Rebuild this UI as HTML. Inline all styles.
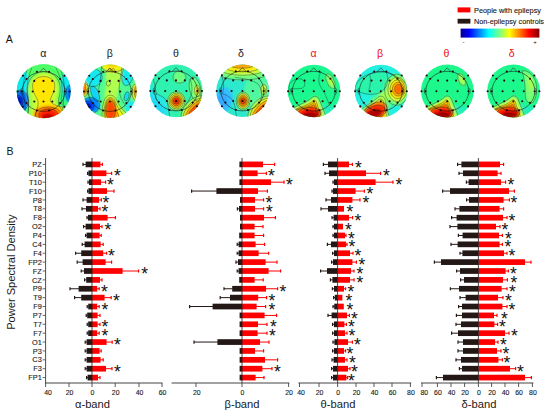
<!DOCTYPE html>
<html><head><meta charset="utf-8"><title>Figure</title>
<style>
html,body{margin:0;padding:0;background:#fff;}
body{width:550px;height:415px;overflow:hidden;font-family:"Liberation Sans",sans-serif;}
svg{display:block;font-family:"Liberation Sans",sans-serif;}
</style></head><body>
<svg width="550" height="415" viewBox="0 0 550 415">
<rect width="550" height="415" fill="#fff"/>
<line x1="83.0" y1="164.40" x2="86.1" y2="164.40" stroke="#231815" stroke-width="1"/>
<line x1="83.0" y1="162.80" x2="83.0" y2="166.00" stroke="#231815" stroke-width="1.2"/>
<line x1="99.9" y1="164.40" x2="102.4" y2="164.40" stroke="#fe0000" stroke-width="1"/>
<line x1="102.4" y1="162.80" x2="102.4" y2="166.00" stroke="#fe0000" stroke-width="1.2"/>
<rect x="85.6" y="161.55" width="6.4" height="5.7" fill="#231815"/>
<rect x="92.0" y="161.55" width="8.4" height="5.7" fill="#fe0000"/>
<line x1="87.6" y1="173.28" x2="88.9" y2="173.28" stroke="#231815" stroke-width="1"/>
<line x1="87.6" y1="171.68" x2="87.6" y2="174.88" stroke="#231815" stroke-width="1.2"/>
<line x1="105.9" y1="173.28" x2="111.6" y2="173.28" stroke="#fe0000" stroke-width="1"/>
<line x1="111.6" y1="171.68" x2="111.6" y2="174.88" stroke="#fe0000" stroke-width="1.2"/>
<rect x="88.4" y="170.43" width="3.6" height="5.7" fill="#231815"/>
<rect x="92.0" y="170.43" width="14.4" height="5.7" fill="#fe0000"/>
<text x="117.4" y="182.38" font-size="17.5" text-anchor="middle" fill="#111">*</text>
<line x1="88.0" y1="182.17" x2="89.5" y2="182.17" stroke="#231815" stroke-width="1"/>
<line x1="88.0" y1="180.57" x2="88.0" y2="183.77" stroke="#231815" stroke-width="1.2"/>
<line x1="100.5" y1="182.17" x2="105.6" y2="182.17" stroke="#fe0000" stroke-width="1"/>
<line x1="105.6" y1="180.57" x2="105.6" y2="183.77" stroke="#fe0000" stroke-width="1.2"/>
<rect x="89.0" y="179.32" width="3.0" height="5.7" fill="#231815"/>
<rect x="92.0" y="179.32" width="9.0" height="5.7" fill="#fe0000"/>
<text x="110.4" y="191.27" font-size="17.5" text-anchor="middle" fill="#111">*</text>
<line x1="87.6" y1="191.05" x2="88.9" y2="191.05" stroke="#231815" stroke-width="1"/>
<line x1="87.6" y1="189.45" x2="87.6" y2="192.65" stroke="#231815" stroke-width="1.2"/>
<line x1="106.5" y1="191.05" x2="114.0" y2="191.05" stroke="#fe0000" stroke-width="1"/>
<line x1="114.0" y1="189.45" x2="114.0" y2="192.65" stroke="#fe0000" stroke-width="1.2"/>
<rect x="88.4" y="188.20" width="3.6" height="5.7" fill="#231815"/>
<rect x="92.0" y="188.20" width="15.0" height="5.7" fill="#fe0000"/>
<line x1="83.0" y1="199.93" x2="87.1" y2="199.93" stroke="#231815" stroke-width="1"/>
<line x1="83.0" y1="198.33" x2="83.0" y2="201.53" stroke="#231815" stroke-width="1.2"/>
<line x1="98.5" y1="199.93" x2="101.4" y2="199.93" stroke="#fe0000" stroke-width="1"/>
<line x1="101.4" y1="198.33" x2="101.4" y2="201.53" stroke="#fe0000" stroke-width="1.2"/>
<rect x="86.6" y="197.08" width="5.4" height="5.7" fill="#231815"/>
<rect x="92.0" y="197.08" width="7.0" height="5.7" fill="#fe0000"/>
<text x="106.0" y="209.03" font-size="17.5" text-anchor="middle" fill="#111">*</text>
<line x1="82.0" y1="208.81" x2="86.5" y2="208.81" stroke="#231815" stroke-width="1"/>
<line x1="82.0" y1="207.22" x2="82.0" y2="210.41" stroke="#231815" stroke-width="1.2"/>
<line x1="97.5" y1="208.81" x2="100.0" y2="208.81" stroke="#fe0000" stroke-width="1"/>
<line x1="100.0" y1="207.22" x2="100.0" y2="210.41" stroke="#fe0000" stroke-width="1.2"/>
<rect x="86.0" y="205.97" width="6.0" height="5.7" fill="#231815"/>
<rect x="92.0" y="205.97" width="6.0" height="5.7" fill="#fe0000"/>
<text x="104.8" y="217.91" font-size="17.5" text-anchor="middle" fill="#111">*</text>
<line x1="87.0" y1="217.70" x2="88.5" y2="217.70" stroke="#231815" stroke-width="1"/>
<line x1="87.0" y1="216.10" x2="87.0" y2="219.30" stroke="#231815" stroke-width="1.2"/>
<line x1="107.1" y1="217.70" x2="115.4" y2="217.70" stroke="#fe0000" stroke-width="1"/>
<line x1="115.4" y1="216.10" x2="115.4" y2="219.30" stroke="#fe0000" stroke-width="1.2"/>
<rect x="88.0" y="214.85" width="4.0" height="5.7" fill="#231815"/>
<rect x="92.0" y="214.85" width="15.6" height="5.7" fill="#fe0000"/>
<line x1="83.6" y1="226.58" x2="86.1" y2="226.58" stroke="#231815" stroke-width="1"/>
<line x1="83.6" y1="224.98" x2="83.6" y2="228.18" stroke="#231815" stroke-width="1.2"/>
<line x1="99.5" y1="226.58" x2="102.0" y2="226.58" stroke="#fe0000" stroke-width="1"/>
<line x1="102.0" y1="224.98" x2="102.0" y2="228.18" stroke="#fe0000" stroke-width="1.2"/>
<rect x="85.6" y="223.73" width="6.4" height="5.7" fill="#231815"/>
<rect x="92.0" y="223.73" width="8.0" height="5.7" fill="#fe0000"/>
<text x="108.0" y="235.68" font-size="17.5" text-anchor="middle" fill="#111">*</text>
<line x1="85.6" y1="235.46" x2="87.1" y2="235.46" stroke="#231815" stroke-width="1"/>
<line x1="85.6" y1="233.86" x2="85.6" y2="237.06" stroke="#231815" stroke-width="1.2"/>
<line x1="99.1" y1="235.46" x2="101.2" y2="235.46" stroke="#fe0000" stroke-width="1"/>
<line x1="101.2" y1="233.86" x2="101.2" y2="237.06" stroke="#fe0000" stroke-width="1.2"/>
<rect x="86.6" y="232.61" width="5.4" height="5.7" fill="#231815"/>
<rect x="92.0" y="232.61" width="7.6" height="5.7" fill="#fe0000"/>
<line x1="82.2" y1="244.35" x2="85.1" y2="244.35" stroke="#231815" stroke-width="1"/>
<line x1="82.2" y1="242.75" x2="82.2" y2="245.95" stroke="#231815" stroke-width="1.2"/>
<line x1="100.1" y1="244.35" x2="103.2" y2="244.35" stroke="#fe0000" stroke-width="1"/>
<line x1="103.2" y1="242.75" x2="103.2" y2="245.95" stroke="#fe0000" stroke-width="1.2"/>
<rect x="84.6" y="241.50" width="7.4" height="5.7" fill="#231815"/>
<rect x="92.0" y="241.50" width="8.6" height="5.7" fill="#fe0000"/>
<line x1="75.6" y1="253.23" x2="81.7" y2="253.23" stroke="#231815" stroke-width="1"/>
<line x1="75.6" y1="251.63" x2="75.6" y2="254.83" stroke="#231815" stroke-width="1.2"/>
<line x1="102.7" y1="253.23" x2="106.6" y2="253.23" stroke="#fe0000" stroke-width="1"/>
<line x1="106.6" y1="251.63" x2="106.6" y2="254.83" stroke="#fe0000" stroke-width="1.2"/>
<rect x="81.2" y="250.38" width="10.8" height="5.7" fill="#231815"/>
<rect x="92.0" y="250.38" width="11.2" height="5.7" fill="#fe0000"/>
<text x="111.4" y="262.33" font-size="17.5" text-anchor="middle" fill="#111">*</text>
<line x1="77.2" y1="262.11" x2="83.1" y2="262.11" stroke="#231815" stroke-width="1"/>
<line x1="77.2" y1="260.51" x2="77.2" y2="263.71" stroke="#231815" stroke-width="1.2"/>
<line x1="105.1" y1="262.11" x2="111.6" y2="262.11" stroke="#fe0000" stroke-width="1"/>
<line x1="111.6" y1="260.51" x2="111.6" y2="263.71" stroke="#fe0000" stroke-width="1.2"/>
<rect x="82.6" y="259.26" width="9.4" height="5.7" fill="#231815"/>
<rect x="92.0" y="259.26" width="13.6" height="5.7" fill="#fe0000"/>
<line x1="81.2" y1="271.00" x2="84.5" y2="271.00" stroke="#231815" stroke-width="1"/>
<line x1="81.2" y1="269.40" x2="81.2" y2="272.60" stroke="#231815" stroke-width="1.2"/>
<line x1="122.1" y1="271.00" x2="138.6" y2="271.00" stroke="#fe0000" stroke-width="1"/>
<line x1="138.6" y1="269.40" x2="138.6" y2="272.60" stroke="#fe0000" stroke-width="1.2"/>
<rect x="84.0" y="268.15" width="8.0" height="5.7" fill="#231815"/>
<rect x="92.0" y="268.15" width="30.6" height="5.7" fill="#fe0000"/>
<text x="144.6" y="280.10" font-size="17.5" text-anchor="middle" fill="#111">*</text>
<line x1="84.6" y1="279.88" x2="86.7" y2="279.88" stroke="#231815" stroke-width="1"/>
<line x1="84.6" y1="278.28" x2="84.6" y2="281.48" stroke="#231815" stroke-width="1.2"/>
<line x1="99.5" y1="279.88" x2="102.0" y2="279.88" stroke="#fe0000" stroke-width="1"/>
<line x1="102.0" y1="278.28" x2="102.0" y2="281.48" stroke="#fe0000" stroke-width="1.2"/>
<rect x="86.2" y="277.03" width="5.8" height="5.7" fill="#231815"/>
<rect x="92.0" y="277.03" width="8.0" height="5.7" fill="#fe0000"/>
<line x1="70.0" y1="288.76" x2="79.1" y2="288.76" stroke="#231815" stroke-width="1"/>
<line x1="70.0" y1="287.16" x2="70.0" y2="290.36" stroke="#231815" stroke-width="1.2"/>
<line x1="96.7" y1="288.76" x2="99.2" y2="288.76" stroke="#fe0000" stroke-width="1"/>
<line x1="99.2" y1="287.16" x2="99.2" y2="290.36" stroke="#fe0000" stroke-width="1.2"/>
<rect x="78.6" y="285.91" width="13.4" height="5.7" fill="#231815"/>
<rect x="92.0" y="285.91" width="5.2" height="5.7" fill="#fe0000"/>
<text x="104.4" y="297.86" font-size="17.5" text-anchor="middle" fill="#111">*</text>
<line x1="74.6" y1="297.64" x2="81.7" y2="297.64" stroke="#231815" stroke-width="1"/>
<line x1="74.6" y1="296.04" x2="74.6" y2="299.25" stroke="#231815" stroke-width="1.2"/>
<line x1="104.1" y1="297.64" x2="111.2" y2="297.64" stroke="#fe0000" stroke-width="1"/>
<line x1="111.2" y1="296.04" x2="111.2" y2="299.25" stroke="#fe0000" stroke-width="1.2"/>
<rect x="81.2" y="294.79" width="10.8" height="5.7" fill="#231815"/>
<rect x="92.0" y="294.79" width="12.6" height="5.7" fill="#fe0000"/>
<text x="116.4" y="306.75" font-size="17.5" text-anchor="middle" fill="#111">*</text>
<line x1="87.2" y1="306.53" x2="88.7" y2="306.53" stroke="#231815" stroke-width="1"/>
<line x1="87.2" y1="304.93" x2="87.2" y2="308.13" stroke="#231815" stroke-width="1.2"/>
<line x1="96.7" y1="306.53" x2="99.2" y2="306.53" stroke="#fe0000" stroke-width="1"/>
<line x1="99.2" y1="304.93" x2="99.2" y2="308.13" stroke="#fe0000" stroke-width="1.2"/>
<rect x="88.2" y="303.68" width="3.8" height="5.7" fill="#231815"/>
<rect x="92.0" y="303.68" width="5.2" height="5.7" fill="#fe0000"/>
<text x="104.8" y="315.63" font-size="17.5" text-anchor="middle" fill="#111">*</text>
<line x1="86.2" y1="315.41" x2="87.7" y2="315.41" stroke="#231815" stroke-width="1"/>
<line x1="86.2" y1="313.81" x2="86.2" y2="317.01" stroke="#231815" stroke-width="1.2"/>
<line x1="97.1" y1="315.41" x2="100.0" y2="315.41" stroke="#fe0000" stroke-width="1"/>
<line x1="100.0" y1="313.81" x2="100.0" y2="317.01" stroke="#fe0000" stroke-width="1.2"/>
<rect x="87.2" y="312.56" width="4.8" height="5.7" fill="#231815"/>
<rect x="92.0" y="312.56" width="5.6" height="5.7" fill="#fe0000"/>
<line x1="87.2" y1="324.29" x2="88.7" y2="324.29" stroke="#231815" stroke-width="1"/>
<line x1="87.2" y1="322.69" x2="87.2" y2="325.89" stroke="#231815" stroke-width="1.2"/>
<line x1="97.1" y1="324.29" x2="100.0" y2="324.29" stroke="#fe0000" stroke-width="1"/>
<line x1="100.0" y1="322.69" x2="100.0" y2="325.89" stroke="#fe0000" stroke-width="1.2"/>
<rect x="88.2" y="321.44" width="3.8" height="5.7" fill="#231815"/>
<rect x="92.0" y="321.44" width="5.6" height="5.7" fill="#fe0000"/>
<text x="105.0" y="333.39" font-size="17.5" text-anchor="middle" fill="#111">*</text>
<line x1="87.2" y1="333.18" x2="88.7" y2="333.18" stroke="#231815" stroke-width="1"/>
<line x1="87.2" y1="331.58" x2="87.2" y2="334.78" stroke="#231815" stroke-width="1.2"/>
<line x1="96.7" y1="333.18" x2="99.2" y2="333.18" stroke="#fe0000" stroke-width="1"/>
<line x1="99.2" y1="331.58" x2="99.2" y2="334.78" stroke="#fe0000" stroke-width="1.2"/>
<rect x="88.2" y="330.33" width="3.8" height="5.7" fill="#231815"/>
<rect x="92.0" y="330.33" width="5.2" height="5.7" fill="#fe0000"/>
<text x="104.8" y="342.28" font-size="17.5" text-anchor="middle" fill="#111">*</text>
<line x1="85.2" y1="342.06" x2="87.1" y2="342.06" stroke="#231815" stroke-width="1"/>
<line x1="85.2" y1="340.46" x2="85.2" y2="343.66" stroke="#231815" stroke-width="1.2"/>
<line x1="106.1" y1="342.06" x2="112.2" y2="342.06" stroke="#fe0000" stroke-width="1"/>
<line x1="112.2" y1="340.46" x2="112.2" y2="343.66" stroke="#fe0000" stroke-width="1.2"/>
<rect x="86.6" y="339.21" width="5.4" height="5.7" fill="#231815"/>
<rect x="92.0" y="339.21" width="14.6" height="5.7" fill="#fe0000"/>
<text x="117.4" y="351.16" font-size="17.5" text-anchor="middle" fill="#111">*</text>
<line x1="85.2" y1="350.94" x2="87.1" y2="350.94" stroke="#231815" stroke-width="1"/>
<line x1="85.2" y1="349.34" x2="85.2" y2="352.54" stroke="#231815" stroke-width="1.2"/>
<line x1="99.1" y1="350.94" x2="101.2" y2="350.94" stroke="#fe0000" stroke-width="1"/>
<line x1="101.2" y1="349.34" x2="101.2" y2="352.54" stroke="#fe0000" stroke-width="1.2"/>
<rect x="86.6" y="348.09" width="5.4" height="5.7" fill="#231815"/>
<rect x="92.0" y="348.09" width="7.6" height="5.7" fill="#fe0000"/>
<line x1="85.2" y1="359.83" x2="87.1" y2="359.83" stroke="#231815" stroke-width="1"/>
<line x1="85.2" y1="358.23" x2="85.2" y2="361.43" stroke="#231815" stroke-width="1.2"/>
<line x1="100.1" y1="359.83" x2="103.2" y2="359.83" stroke="#fe0000" stroke-width="1"/>
<line x1="103.2" y1="358.23" x2="103.2" y2="361.43" stroke="#fe0000" stroke-width="1.2"/>
<rect x="86.6" y="356.98" width="5.4" height="5.7" fill="#231815"/>
<rect x="92.0" y="356.98" width="8.6" height="5.7" fill="#fe0000"/>
<line x1="85.2" y1="368.71" x2="87.1" y2="368.71" stroke="#231815" stroke-width="1"/>
<line x1="85.2" y1="367.11" x2="85.2" y2="370.31" stroke="#231815" stroke-width="1.2"/>
<line x1="105.5" y1="368.71" x2="112.0" y2="368.71" stroke="#fe0000" stroke-width="1"/>
<line x1="112.0" y1="367.11" x2="112.0" y2="370.31" stroke="#fe0000" stroke-width="1.2"/>
<rect x="86.6" y="365.86" width="5.4" height="5.7" fill="#231815"/>
<rect x="92.0" y="365.86" width="14.0" height="5.7" fill="#fe0000"/>
<text x="117.4" y="377.81" font-size="17.5" text-anchor="middle" fill="#111">*</text>
<line x1="86.6" y1="377.59" x2="88.1" y2="377.59" stroke="#231815" stroke-width="1"/>
<line x1="86.6" y1="375.99" x2="86.6" y2="379.19" stroke="#231815" stroke-width="1.2"/>
<line x1="97.5" y1="377.59" x2="100.0" y2="377.59" stroke="#fe0000" stroke-width="1"/>
<line x1="100.0" y1="375.99" x2="100.0" y2="379.19" stroke="#fe0000" stroke-width="1.2"/>
<rect x="87.6" y="374.74" width="4.4" height="5.7" fill="#231815"/>
<rect x="92.0" y="374.74" width="6.0" height="5.7" fill="#fe0000"/>
<line x1="92.0" y1="158" x2="92.0" y2="383.0" stroke="#1a1a1a" stroke-width="0.8"/>
<line x1="262.5" y1="164.40" x2="274.6" y2="164.40" stroke="#fe0000" stroke-width="1"/>
<line x1="274.6" y1="162.80" x2="274.6" y2="166.00" stroke="#fe0000" stroke-width="1.2"/>
<rect x="239.4" y="161.55" width="2.6" height="5.7" fill="#231815"/>
<rect x="242.0" y="161.55" width="21.0" height="5.7" fill="#fe0000"/>
<line x1="257.1" y1="173.28" x2="266.4" y2="173.28" stroke="#fe0000" stroke-width="1"/>
<line x1="266.4" y1="171.68" x2="266.4" y2="174.88" stroke="#fe0000" stroke-width="1.2"/>
<rect x="239.4" y="170.43" width="2.6" height="5.7" fill="#231815"/>
<rect x="242.0" y="170.43" width="15.6" height="5.7" fill="#fe0000"/>
<text x="271.4" y="182.38" font-size="17.5" text-anchor="middle" fill="#111">*</text>
<line x1="270.5" y1="182.17" x2="284.0" y2="182.17" stroke="#fe0000" stroke-width="1"/>
<line x1="284.0" y1="180.57" x2="284.0" y2="183.77" stroke="#fe0000" stroke-width="1.2"/>
<rect x="239.4" y="179.32" width="2.6" height="5.7" fill="#231815"/>
<rect x="242.0" y="179.32" width="29.0" height="5.7" fill="#fe0000"/>
<text x="289.4" y="191.27" font-size="17.5" text-anchor="middle" fill="#111">*</text>
<line x1="191.6" y1="191.05" x2="216.9" y2="191.05" stroke="#231815" stroke-width="1"/>
<line x1="191.6" y1="189.45" x2="191.6" y2="192.65" stroke="#231815" stroke-width="1.2"/>
<line x1="257.5" y1="191.05" x2="267.4" y2="191.05" stroke="#fe0000" stroke-width="1"/>
<line x1="267.4" y1="189.45" x2="267.4" y2="192.65" stroke="#fe0000" stroke-width="1.2"/>
<rect x="216.4" y="188.20" width="25.6" height="5.7" fill="#231815"/>
<rect x="242.0" y="188.20" width="16.0" height="5.7" fill="#fe0000"/>
<line x1="254.5" y1="199.93" x2="263.6" y2="199.93" stroke="#fe0000" stroke-width="1"/>
<line x1="263.6" y1="198.33" x2="263.6" y2="201.53" stroke="#fe0000" stroke-width="1.2"/>
<rect x="240.0" y="197.08" width="2.0" height="5.7" fill="#231815"/>
<rect x="242.0" y="197.08" width="13.0" height="5.7" fill="#fe0000"/>
<text x="268.8" y="209.03" font-size="17.5" text-anchor="middle" fill="#111">*</text>
<line x1="237.4" y1="208.81" x2="239.5" y2="208.81" stroke="#231815" stroke-width="1"/>
<line x1="237.4" y1="207.22" x2="237.4" y2="210.41" stroke="#231815" stroke-width="1.2"/>
<line x1="254.5" y1="208.81" x2="263.6" y2="208.81" stroke="#fe0000" stroke-width="1"/>
<line x1="263.6" y1="207.22" x2="263.6" y2="210.41" stroke="#fe0000" stroke-width="1.2"/>
<rect x="239.0" y="205.97" width="3.0" height="5.7" fill="#231815"/>
<rect x="242.0" y="205.97" width="13.0" height="5.7" fill="#fe0000"/>
<text x="269.4" y="217.91" font-size="17.5" text-anchor="middle" fill="#111">*</text>
<line x1="263.5" y1="217.70" x2="275.4" y2="217.70" stroke="#fe0000" stroke-width="1"/>
<line x1="275.4" y1="216.10" x2="275.4" y2="219.30" stroke="#fe0000" stroke-width="1.2"/>
<rect x="240.0" y="214.85" width="2.0" height="5.7" fill="#231815"/>
<rect x="242.0" y="214.85" width="22.0" height="5.7" fill="#fe0000"/>
<line x1="254.1" y1="226.58" x2="263.0" y2="226.58" stroke="#fe0000" stroke-width="1"/>
<line x1="263.0" y1="224.98" x2="263.0" y2="228.18" stroke="#fe0000" stroke-width="1.2"/>
<rect x="240.0" y="223.73" width="2.0" height="5.7" fill="#231815"/>
<rect x="242.0" y="223.73" width="12.6" height="5.7" fill="#fe0000"/>
<line x1="254.1" y1="235.46" x2="263.6" y2="235.46" stroke="#fe0000" stroke-width="1"/>
<line x1="263.6" y1="233.86" x2="263.6" y2="237.06" stroke="#fe0000" stroke-width="1.2"/>
<rect x="239.2" y="232.61" width="2.8" height="5.7" fill="#231815"/>
<rect x="242.0" y="232.61" width="12.6" height="5.7" fill="#fe0000"/>
<line x1="237.2" y1="244.35" x2="239.1" y2="244.35" stroke="#231815" stroke-width="1"/>
<line x1="237.2" y1="242.75" x2="237.2" y2="245.95" stroke="#231815" stroke-width="1.2"/>
<line x1="255.1" y1="244.35" x2="264.6" y2="244.35" stroke="#fe0000" stroke-width="1"/>
<line x1="264.6" y1="242.75" x2="264.6" y2="245.95" stroke="#fe0000" stroke-width="1.2"/>
<rect x="238.6" y="241.50" width="3.4" height="5.7" fill="#231815"/>
<rect x="242.0" y="241.50" width="13.6" height="5.7" fill="#fe0000"/>
<line x1="237.2" y1="253.23" x2="239.1" y2="253.23" stroke="#231815" stroke-width="1"/>
<line x1="237.2" y1="251.63" x2="237.2" y2="254.83" stroke="#231815" stroke-width="1.2"/>
<line x1="258.1" y1="253.23" x2="268.6" y2="253.23" stroke="#fe0000" stroke-width="1"/>
<line x1="268.6" y1="251.63" x2="268.6" y2="254.83" stroke="#fe0000" stroke-width="1.2"/>
<rect x="238.6" y="250.38" width="3.4" height="5.7" fill="#231815"/>
<rect x="242.0" y="250.38" width="16.6" height="5.7" fill="#fe0000"/>
<line x1="236.0" y1="262.11" x2="238.5" y2="262.11" stroke="#231815" stroke-width="1"/>
<line x1="236.0" y1="260.51" x2="236.0" y2="263.71" stroke="#231815" stroke-width="1.2"/>
<line x1="265.1" y1="262.11" x2="277.0" y2="262.11" stroke="#fe0000" stroke-width="1"/>
<line x1="277.0" y1="260.51" x2="277.0" y2="263.71" stroke="#fe0000" stroke-width="1.2"/>
<rect x="238.0" y="259.26" width="4.0" height="5.7" fill="#231815"/>
<rect x="242.0" y="259.26" width="23.6" height="5.7" fill="#fe0000"/>
<line x1="237.2" y1="271.00" x2="239.1" y2="271.00" stroke="#231815" stroke-width="1"/>
<line x1="237.2" y1="269.40" x2="237.2" y2="272.60" stroke="#231815" stroke-width="1.2"/>
<line x1="268.1" y1="271.00" x2="280.6" y2="271.00" stroke="#fe0000" stroke-width="1"/>
<line x1="280.6" y1="269.40" x2="280.6" y2="272.60" stroke="#fe0000" stroke-width="1.2"/>
<rect x="238.6" y="268.15" width="3.4" height="5.7" fill="#231815"/>
<rect x="242.0" y="268.15" width="26.6" height="5.7" fill="#fe0000"/>
<line x1="254.1" y1="279.88" x2="263.2" y2="279.88" stroke="#fe0000" stroke-width="1"/>
<line x1="263.2" y1="278.28" x2="263.2" y2="281.48" stroke="#fe0000" stroke-width="1.2"/>
<rect x="239.2" y="277.03" width="2.8" height="5.7" fill="#231815"/>
<rect x="242.0" y="277.03" width="12.6" height="5.7" fill="#fe0000"/>
<line x1="224.0" y1="288.76" x2="232.7" y2="288.76" stroke="#231815" stroke-width="1"/>
<line x1="224.0" y1="287.16" x2="224.0" y2="290.36" stroke="#231815" stroke-width="1.2"/>
<line x1="265.5" y1="288.76" x2="277.6" y2="288.76" stroke="#fe0000" stroke-width="1"/>
<line x1="277.6" y1="287.16" x2="277.6" y2="290.36" stroke="#fe0000" stroke-width="1.2"/>
<rect x="232.2" y="285.91" width="9.8" height="5.7" fill="#231815"/>
<rect x="242.0" y="285.91" width="24.0" height="5.7" fill="#fe0000"/>
<text x="283.0" y="297.86" font-size="17.5" text-anchor="middle" fill="#111">*</text>
<line x1="220.2" y1="297.64" x2="230.5" y2="297.64" stroke="#231815" stroke-width="1"/>
<line x1="220.2" y1="296.04" x2="220.2" y2="299.25" stroke="#231815" stroke-width="1.2"/>
<line x1="257.7" y1="297.64" x2="266.6" y2="297.64" stroke="#fe0000" stroke-width="1"/>
<line x1="266.6" y1="296.04" x2="266.6" y2="299.25" stroke="#fe0000" stroke-width="1.2"/>
<rect x="230.0" y="294.79" width="12.0" height="5.7" fill="#231815"/>
<rect x="242.0" y="294.79" width="16.2" height="5.7" fill="#fe0000"/>
<text x="272.0" y="306.75" font-size="17.5" text-anchor="middle" fill="#111">*</text>
<line x1="189.6" y1="306.53" x2="213.1" y2="306.53" stroke="#231815" stroke-width="1"/>
<line x1="189.6" y1="304.93" x2="189.6" y2="308.13" stroke="#231815" stroke-width="1.2"/>
<line x1="256.1" y1="306.53" x2="265.6" y2="306.53" stroke="#fe0000" stroke-width="1"/>
<line x1="265.6" y1="304.93" x2="265.6" y2="308.13" stroke="#fe0000" stroke-width="1.2"/>
<rect x="212.6" y="303.68" width="29.4" height="5.7" fill="#231815"/>
<rect x="242.0" y="303.68" width="14.6" height="5.7" fill="#fe0000"/>
<text x="272.0" y="315.63" font-size="17.5" text-anchor="middle" fill="#111">*</text>
<line x1="264.1" y1="315.41" x2="276.6" y2="315.41" stroke="#fe0000" stroke-width="1"/>
<line x1="276.6" y1="313.81" x2="276.6" y2="317.01" stroke="#fe0000" stroke-width="1.2"/>
<rect x="239.6" y="312.56" width="2.4" height="5.7" fill="#231815"/>
<rect x="242.0" y="312.56" width="22.6" height="5.7" fill="#fe0000"/>
<line x1="257.5" y1="324.29" x2="267.0" y2="324.29" stroke="#fe0000" stroke-width="1"/>
<line x1="267.0" y1="322.69" x2="267.0" y2="325.89" stroke="#fe0000" stroke-width="1.2"/>
<rect x="239.6" y="321.44" width="2.4" height="5.7" fill="#231815"/>
<rect x="242.0" y="321.44" width="16.0" height="5.7" fill="#fe0000"/>
<text x="273.4" y="333.39" font-size="17.5" text-anchor="middle" fill="#111">*</text>
<line x1="257.1" y1="333.18" x2="267.0" y2="333.18" stroke="#fe0000" stroke-width="1"/>
<line x1="267.0" y1="331.58" x2="267.0" y2="334.78" stroke="#fe0000" stroke-width="1.2"/>
<rect x="239.6" y="330.33" width="2.4" height="5.7" fill="#231815"/>
<rect x="242.0" y="330.33" width="15.6" height="5.7" fill="#fe0000"/>
<text x="272.4" y="342.28" font-size="17.5" text-anchor="middle" fill="#111">*</text>
<line x1="194.0" y1="342.06" x2="217.9" y2="342.06" stroke="#231815" stroke-width="1"/>
<line x1="194.0" y1="340.46" x2="194.0" y2="343.66" stroke="#231815" stroke-width="1.2"/>
<line x1="259.5" y1="342.06" x2="269.0" y2="342.06" stroke="#fe0000" stroke-width="1"/>
<line x1="269.0" y1="340.46" x2="269.0" y2="343.66" stroke="#fe0000" stroke-width="1.2"/>
<rect x="217.4" y="339.21" width="24.6" height="5.7" fill="#231815"/>
<rect x="242.0" y="339.21" width="18.0" height="5.7" fill="#fe0000"/>
<line x1="254.5" y1="350.94" x2="263.6" y2="350.94" stroke="#fe0000" stroke-width="1"/>
<line x1="263.6" y1="349.34" x2="263.6" y2="352.54" stroke="#fe0000" stroke-width="1.2"/>
<rect x="239.6" y="348.09" width="2.4" height="5.7" fill="#231815"/>
<rect x="242.0" y="348.09" width="13.0" height="5.7" fill="#fe0000"/>
<line x1="264.5" y1="359.83" x2="277.6" y2="359.83" stroke="#fe0000" stroke-width="1"/>
<line x1="277.6" y1="358.23" x2="277.6" y2="361.43" stroke="#fe0000" stroke-width="1.2"/>
<rect x="239.6" y="356.98" width="2.4" height="5.7" fill="#231815"/>
<rect x="242.0" y="356.98" width="23.0" height="5.7" fill="#fe0000"/>
<line x1="261.9" y1="368.71" x2="272.0" y2="368.71" stroke="#fe0000" stroke-width="1"/>
<line x1="272.0" y1="367.11" x2="272.0" y2="370.31" stroke="#fe0000" stroke-width="1.2"/>
<rect x="239.6" y="365.86" width="2.4" height="5.7" fill="#231815"/>
<rect x="242.0" y="365.86" width="20.4" height="5.7" fill="#fe0000"/>
<text x="277.4" y="377.81" font-size="17.5" text-anchor="middle" fill="#111">*</text>
<line x1="255.1" y1="377.59" x2="264.0" y2="377.59" stroke="#fe0000" stroke-width="1"/>
<line x1="264.0" y1="375.99" x2="264.0" y2="379.19" stroke="#fe0000" stroke-width="1.2"/>
<rect x="239.6" y="374.74" width="2.4" height="5.7" fill="#231815"/>
<rect x="242.0" y="374.74" width="13.6" height="5.7" fill="#fe0000"/>
<line x1="242.0" y1="158" x2="242.0" y2="383.0" stroke="#1a1a1a" stroke-width="0.8"/>
<line x1="323.4" y1="164.40" x2="328.5" y2="164.40" stroke="#231815" stroke-width="1"/>
<line x1="323.4" y1="162.80" x2="323.4" y2="166.00" stroke="#231815" stroke-width="1.2"/>
<line x1="348.5" y1="164.40" x2="352.4" y2="164.40" stroke="#fe0000" stroke-width="1"/>
<line x1="352.4" y1="162.80" x2="352.4" y2="166.00" stroke="#fe0000" stroke-width="1.2"/>
<rect x="328.0" y="161.55" width="9.6" height="5.7" fill="#231815"/>
<rect x="337.6" y="161.55" width="11.4" height="5.7" fill="#fe0000"/>
<text x="358.4" y="173.50" font-size="17.5" text-anchor="middle" fill="#111">*</text>
<line x1="325.0" y1="173.28" x2="329.5" y2="173.28" stroke="#231815" stroke-width="1"/>
<line x1="325.0" y1="171.68" x2="325.0" y2="174.88" stroke="#231815" stroke-width="1.2"/>
<line x1="365.5" y1="173.28" x2="380.6" y2="173.28" stroke="#fe0000" stroke-width="1"/>
<line x1="380.6" y1="171.68" x2="380.6" y2="174.88" stroke="#fe0000" stroke-width="1.2"/>
<rect x="329.0" y="170.43" width="8.6" height="5.7" fill="#231815"/>
<rect x="337.6" y="170.43" width="28.4" height="5.7" fill="#fe0000"/>
<text x="386.4" y="182.38" font-size="17.5" text-anchor="middle" fill="#111">*</text>
<line x1="333.0" y1="182.17" x2="334.5" y2="182.17" stroke="#231815" stroke-width="1"/>
<line x1="333.0" y1="180.57" x2="333.0" y2="183.77" stroke="#231815" stroke-width="1.2"/>
<line x1="375.1" y1="182.17" x2="393.0" y2="182.17" stroke="#fe0000" stroke-width="1"/>
<line x1="393.0" y1="180.57" x2="393.0" y2="183.77" stroke="#fe0000" stroke-width="1.2"/>
<rect x="334.0" y="179.32" width="3.6" height="5.7" fill="#231815"/>
<rect x="337.6" y="179.32" width="38.0" height="5.7" fill="#fe0000"/>
<text x="398.8" y="191.27" font-size="17.5" text-anchor="middle" fill="#111">*</text>
<line x1="332.0" y1="191.05" x2="333.5" y2="191.05" stroke="#231815" stroke-width="1"/>
<line x1="332.0" y1="189.45" x2="332.0" y2="192.65" stroke="#231815" stroke-width="1.2"/>
<line x1="355.1" y1="191.05" x2="364.4" y2="191.05" stroke="#fe0000" stroke-width="1"/>
<line x1="364.4" y1="189.45" x2="364.4" y2="192.65" stroke="#fe0000" stroke-width="1.2"/>
<rect x="333.0" y="188.20" width="4.6" height="5.7" fill="#231815"/>
<rect x="337.6" y="188.20" width="18.0" height="5.7" fill="#fe0000"/>
<text x="369.8" y="200.15" font-size="17.5" text-anchor="middle" fill="#111">*</text>
<line x1="326.0" y1="199.93" x2="331.5" y2="199.93" stroke="#231815" stroke-width="1"/>
<line x1="326.0" y1="198.33" x2="326.0" y2="201.53" stroke="#231815" stroke-width="1.2"/>
<line x1="351.9" y1="199.93" x2="360.0" y2="199.93" stroke="#fe0000" stroke-width="1"/>
<line x1="360.0" y1="198.33" x2="360.0" y2="201.53" stroke="#fe0000" stroke-width="1.2"/>
<rect x="331.0" y="197.08" width="6.6" height="5.7" fill="#231815"/>
<rect x="337.6" y="197.08" width="14.8" height="5.7" fill="#fe0000"/>
<text x="366.0" y="209.03" font-size="17.5" text-anchor="middle" fill="#111">*</text>
<line x1="321.0" y1="208.81" x2="328.5" y2="208.81" stroke="#231815" stroke-width="1"/>
<line x1="321.0" y1="207.22" x2="321.0" y2="210.41" stroke="#231815" stroke-width="1.2"/>
<rect x="328.0" y="205.97" width="9.6" height="5.7" fill="#231815"/>
<rect x="337.6" y="205.97" width="6.4" height="5.7" fill="#fe0000"/>
<text x="349.8" y="217.91" font-size="17.5" text-anchor="middle" fill="#111">*</text>
<line x1="332.0" y1="217.70" x2="334.1" y2="217.70" stroke="#231815" stroke-width="1"/>
<line x1="332.0" y1="216.10" x2="332.0" y2="219.30" stroke="#231815" stroke-width="1.2"/>
<line x1="348.5" y1="217.70" x2="352.6" y2="217.70" stroke="#fe0000" stroke-width="1"/>
<line x1="352.6" y1="216.10" x2="352.6" y2="219.30" stroke="#fe0000" stroke-width="1.2"/>
<rect x="333.6" y="214.85" width="4.0" height="5.7" fill="#231815"/>
<rect x="337.6" y="214.85" width="11.4" height="5.7" fill="#fe0000"/>
<text x="357.8" y="226.80" font-size="17.5" text-anchor="middle" fill="#111">*</text>
<line x1="333.0" y1="226.58" x2="334.5" y2="226.58" stroke="#231815" stroke-width="1"/>
<line x1="333.0" y1="224.98" x2="333.0" y2="228.18" stroke="#231815" stroke-width="1.2"/>
<rect x="334.0" y="223.73" width="3.6" height="5.7" fill="#231815"/>
<rect x="337.6" y="223.73" width="5.4" height="5.7" fill="#fe0000"/>
<text x="348.4" y="235.68" font-size="17.5" text-anchor="middle" fill="#111">*</text>
<line x1="333.0" y1="235.46" x2="334.5" y2="235.46" stroke="#231815" stroke-width="1"/>
<line x1="333.0" y1="233.86" x2="333.0" y2="237.06" stroke="#231815" stroke-width="1.2"/>
<line x1="344.5" y1="235.46" x2="346.0" y2="235.46" stroke="#fe0000" stroke-width="1"/>
<line x1="346.0" y1="233.86" x2="346.0" y2="237.06" stroke="#fe0000" stroke-width="1.2"/>
<rect x="334.0" y="232.61" width="3.6" height="5.7" fill="#231815"/>
<rect x="337.6" y="232.61" width="7.4" height="5.7" fill="#fe0000"/>
<text x="351.4" y="244.56" font-size="17.5" text-anchor="middle" fill="#111">*</text>
<line x1="327.4" y1="244.35" x2="331.5" y2="244.35" stroke="#231815" stroke-width="1"/>
<line x1="327.4" y1="242.75" x2="327.4" y2="245.95" stroke="#231815" stroke-width="1.2"/>
<line x1="345.5" y1="244.35" x2="347.0" y2="244.35" stroke="#fe0000" stroke-width="1"/>
<line x1="347.0" y1="242.75" x2="347.0" y2="245.95" stroke="#fe0000" stroke-width="1.2"/>
<rect x="331.0" y="241.50" width="6.6" height="5.7" fill="#231815"/>
<rect x="337.6" y="241.50" width="8.4" height="5.7" fill="#fe0000"/>
<text x="352.0" y="253.45" font-size="17.5" text-anchor="middle" fill="#111">*</text>
<line x1="332.6" y1="253.23" x2="334.5" y2="253.23" stroke="#231815" stroke-width="1"/>
<line x1="332.6" y1="251.63" x2="332.6" y2="254.83" stroke="#231815" stroke-width="1.2"/>
<line x1="349.5" y1="253.23" x2="353.0" y2="253.23" stroke="#fe0000" stroke-width="1"/>
<line x1="353.0" y1="251.63" x2="353.0" y2="254.83" stroke="#fe0000" stroke-width="1.2"/>
<rect x="334.0" y="250.38" width="3.6" height="5.7" fill="#231815"/>
<rect x="337.6" y="250.38" width="12.4" height="5.7" fill="#fe0000"/>
<text x="357.8" y="262.33" font-size="17.5" text-anchor="middle" fill="#111">*</text>
<line x1="331.6" y1="262.11" x2="333.5" y2="262.11" stroke="#231815" stroke-width="1"/>
<line x1="331.6" y1="260.51" x2="331.6" y2="263.71" stroke="#231815" stroke-width="1.2"/>
<line x1="351.9" y1="262.11" x2="356.4" y2="262.11" stroke="#fe0000" stroke-width="1"/>
<line x1="356.4" y1="260.51" x2="356.4" y2="263.71" stroke="#fe0000" stroke-width="1.2"/>
<rect x="333.0" y="259.26" width="4.6" height="5.7" fill="#231815"/>
<rect x="337.6" y="259.26" width="14.8" height="5.7" fill="#fe0000"/>
<text x="361.8" y="271.21" font-size="17.5" text-anchor="middle" fill="#111">*</text>
<line x1="320.6" y1="271.00" x2="327.5" y2="271.00" stroke="#231815" stroke-width="1"/>
<line x1="320.6" y1="269.40" x2="320.6" y2="272.60" stroke="#231815" stroke-width="1.2"/>
<line x1="350.5" y1="271.00" x2="354.0" y2="271.00" stroke="#fe0000" stroke-width="1"/>
<line x1="354.0" y1="269.40" x2="354.0" y2="272.60" stroke="#fe0000" stroke-width="1.2"/>
<rect x="327.0" y="268.15" width="10.6" height="5.7" fill="#231815"/>
<rect x="337.6" y="268.15" width="13.4" height="5.7" fill="#fe0000"/>
<text x="359.8" y="280.10" font-size="17.5" text-anchor="middle" fill="#111">*</text>
<line x1="330.4" y1="279.88" x2="332.9" y2="279.88" stroke="#231815" stroke-width="1"/>
<line x1="330.4" y1="278.28" x2="330.4" y2="281.48" stroke="#231815" stroke-width="1.2"/>
<line x1="349.5" y1="279.88" x2="354.0" y2="279.88" stroke="#fe0000" stroke-width="1"/>
<line x1="354.0" y1="278.28" x2="354.0" y2="281.48" stroke="#fe0000" stroke-width="1.2"/>
<rect x="332.4" y="277.03" width="5.2" height="5.7" fill="#231815"/>
<rect x="337.6" y="277.03" width="12.4" height="5.7" fill="#fe0000"/>
<text x="360.0" y="288.98" font-size="17.5" text-anchor="middle" fill="#111">*</text>
<line x1="332.4" y1="288.76" x2="334.5" y2="288.76" stroke="#231815" stroke-width="1"/>
<line x1="332.4" y1="287.16" x2="332.4" y2="290.36" stroke="#231815" stroke-width="1.2"/>
<line x1="343.5" y1="288.76" x2="345.6" y2="288.76" stroke="#fe0000" stroke-width="1"/>
<line x1="345.6" y1="287.16" x2="345.6" y2="290.36" stroke="#fe0000" stroke-width="1.2"/>
<rect x="334.0" y="285.91" width="3.6" height="5.7" fill="#231815"/>
<rect x="337.6" y="285.91" width="6.4" height="5.7" fill="#fe0000"/>
<text x="351.0" y="297.86" font-size="17.5" text-anchor="middle" fill="#111">*</text>
<line x1="333.6" y1="297.64" x2="335.3" y2="297.64" stroke="#231815" stroke-width="1"/>
<line x1="333.6" y1="296.04" x2="333.6" y2="299.25" stroke="#231815" stroke-width="1.2"/>
<rect x="334.8" y="294.79" width="2.8" height="5.7" fill="#231815"/>
<rect x="337.6" y="294.79" width="4.8" height="5.7" fill="#fe0000"/>
<text x="348.8" y="306.75" font-size="17.5" text-anchor="middle" fill="#111">*</text>
<line x1="333.0" y1="306.53" x2="334.7" y2="306.53" stroke="#231815" stroke-width="1"/>
<line x1="333.0" y1="304.93" x2="333.0" y2="308.13" stroke="#231815" stroke-width="1.2"/>
<rect x="334.2" y="303.68" width="3.4" height="5.7" fill="#231815"/>
<rect x="337.6" y="303.68" width="6.2" height="5.7" fill="#fe0000"/>
<text x="350.0" y="315.63" font-size="17.5" text-anchor="middle" fill="#111">*</text>
<line x1="328.0" y1="315.41" x2="332.1" y2="315.41" stroke="#231815" stroke-width="1"/>
<line x1="328.0" y1="313.81" x2="328.0" y2="317.01" stroke="#231815" stroke-width="1.2"/>
<line x1="346.5" y1="315.41" x2="349.4" y2="315.41" stroke="#fe0000" stroke-width="1"/>
<line x1="349.4" y1="313.81" x2="349.4" y2="317.01" stroke="#fe0000" stroke-width="1.2"/>
<rect x="331.6" y="312.56" width="6.0" height="5.7" fill="#231815"/>
<rect x="337.6" y="312.56" width="9.4" height="5.7" fill="#fe0000"/>
<text x="354.4" y="324.51" font-size="17.5" text-anchor="middle" fill="#111">*</text>
<line x1="332.6" y1="324.29" x2="334.5" y2="324.29" stroke="#231815" stroke-width="1"/>
<line x1="332.6" y1="322.69" x2="332.6" y2="325.89" stroke="#231815" stroke-width="1.2"/>
<line x1="343.9" y1="324.29" x2="346.4" y2="324.29" stroke="#fe0000" stroke-width="1"/>
<line x1="346.4" y1="322.69" x2="346.4" y2="325.89" stroke="#fe0000" stroke-width="1.2"/>
<rect x="334.0" y="321.44" width="3.6" height="5.7" fill="#231815"/>
<rect x="337.6" y="321.44" width="6.8" height="5.7" fill="#fe0000"/>
<text x="351.4" y="333.39" font-size="17.5" text-anchor="middle" fill="#111">*</text>
<line x1="332.6" y1="333.18" x2="334.5" y2="333.18" stroke="#231815" stroke-width="1"/>
<line x1="332.6" y1="331.58" x2="332.6" y2="334.78" stroke="#231815" stroke-width="1.2"/>
<line x1="344.5" y1="333.18" x2="347.0" y2="333.18" stroke="#fe0000" stroke-width="1"/>
<line x1="347.0" y1="331.58" x2="347.0" y2="334.78" stroke="#fe0000" stroke-width="1.2"/>
<rect x="334.0" y="330.33" width="3.6" height="5.7" fill="#231815"/>
<rect x="337.6" y="330.33" width="7.4" height="5.7" fill="#fe0000"/>
<text x="351.8" y="342.28" font-size="17.5" text-anchor="middle" fill="#111">*</text>
<line x1="333.0" y1="342.06" x2="334.9" y2="342.06" stroke="#231815" stroke-width="1"/>
<line x1="333.0" y1="340.46" x2="333.0" y2="343.66" stroke="#231815" stroke-width="1.2"/>
<line x1="347.5" y1="342.06" x2="352.4" y2="342.06" stroke="#fe0000" stroke-width="1"/>
<line x1="352.4" y1="340.46" x2="352.4" y2="343.66" stroke="#fe0000" stroke-width="1.2"/>
<rect x="334.4" y="339.21" width="3.2" height="5.7" fill="#231815"/>
<rect x="337.6" y="339.21" width="10.4" height="5.7" fill="#fe0000"/>
<text x="357.4" y="351.16" font-size="17.5" text-anchor="middle" fill="#111">*</text>
<line x1="332.6" y1="350.94" x2="334.5" y2="350.94" stroke="#231815" stroke-width="1"/>
<line x1="332.6" y1="349.34" x2="332.6" y2="352.54" stroke="#231815" stroke-width="1.2"/>
<line x1="343.5" y1="350.94" x2="345.6" y2="350.94" stroke="#fe0000" stroke-width="1"/>
<line x1="345.6" y1="349.34" x2="345.6" y2="352.54" stroke="#fe0000" stroke-width="1.2"/>
<rect x="334.0" y="348.09" width="3.6" height="5.7" fill="#231815"/>
<rect x="337.6" y="348.09" width="6.4" height="5.7" fill="#fe0000"/>
<text x="350.0" y="360.04" font-size="17.5" text-anchor="middle" fill="#111">*</text>
<line x1="332.0" y1="359.83" x2="334.1" y2="359.83" stroke="#231815" stroke-width="1"/>
<line x1="332.0" y1="358.23" x2="332.0" y2="361.43" stroke="#231815" stroke-width="1.2"/>
<line x1="344.5" y1="359.83" x2="347.0" y2="359.83" stroke="#fe0000" stroke-width="1"/>
<line x1="347.0" y1="358.23" x2="347.0" y2="361.43" stroke="#fe0000" stroke-width="1.2"/>
<rect x="333.6" y="356.98" width="4.0" height="5.7" fill="#231815"/>
<rect x="337.6" y="356.98" width="7.4" height="5.7" fill="#fe0000"/>
<text x="352.4" y="368.93" font-size="17.5" text-anchor="middle" fill="#111">*</text>
<line x1="331.6" y1="368.71" x2="333.5" y2="368.71" stroke="#231815" stroke-width="1"/>
<line x1="331.6" y1="367.11" x2="331.6" y2="370.31" stroke="#231815" stroke-width="1.2"/>
<line x1="347.5" y1="368.71" x2="350.0" y2="368.71" stroke="#fe0000" stroke-width="1"/>
<line x1="350.0" y1="367.11" x2="350.0" y2="370.31" stroke="#fe0000" stroke-width="1.2"/>
<rect x="333.0" y="365.86" width="4.6" height="5.7" fill="#231815"/>
<rect x="337.6" y="365.86" width="10.4" height="5.7" fill="#fe0000"/>
<text x="354.4" y="377.81" font-size="17.5" text-anchor="middle" fill="#111">*</text>
<line x1="331.6" y1="377.59" x2="333.5" y2="377.59" stroke="#231815" stroke-width="1"/>
<line x1="331.6" y1="375.99" x2="331.6" y2="379.19" stroke="#231815" stroke-width="1.2"/>
<line x1="345.9" y1="377.59" x2="347.6" y2="377.59" stroke="#fe0000" stroke-width="1"/>
<line x1="347.6" y1="375.99" x2="347.6" y2="379.19" stroke="#fe0000" stroke-width="1.2"/>
<rect x="333.0" y="374.74" width="4.6" height="5.7" fill="#231815"/>
<rect x="337.6" y="374.74" width="8.8" height="5.7" fill="#fe0000"/>
<text x="351.4" y="386.69" font-size="17.5" text-anchor="middle" fill="#111">*</text>
<line x1="337.6" y1="158" x2="337.6" y2="383.0" stroke="#1a1a1a" stroke-width="0.8"/>
<line x1="457.6" y1="164.40" x2="461.9" y2="164.40" stroke="#231815" stroke-width="1"/>
<line x1="457.6" y1="162.80" x2="457.6" y2="166.00" stroke="#231815" stroke-width="1.2"/>
<line x1="499.5" y1="164.40" x2="503.6" y2="164.40" stroke="#fe0000" stroke-width="1"/>
<line x1="503.6" y1="162.80" x2="503.6" y2="166.00" stroke="#fe0000" stroke-width="1.2"/>
<rect x="461.4" y="161.55" width="17.0" height="5.7" fill="#231815"/>
<rect x="478.4" y="161.55" width="21.6" height="5.7" fill="#fe0000"/>
<line x1="459.0" y1="173.28" x2="463.5" y2="173.28" stroke="#231815" stroke-width="1"/>
<line x1="459.0" y1="171.68" x2="459.0" y2="174.88" stroke="#231815" stroke-width="1.2"/>
<line x1="497.1" y1="173.28" x2="501.0" y2="173.28" stroke="#fe0000" stroke-width="1"/>
<line x1="501.0" y1="171.68" x2="501.0" y2="174.88" stroke="#fe0000" stroke-width="1.2"/>
<rect x="463.0" y="170.43" width="15.4" height="5.7" fill="#231815"/>
<rect x="478.4" y="170.43" width="19.2" height="5.7" fill="#fe0000"/>
<line x1="466.4" y1="182.17" x2="469.1" y2="182.17" stroke="#231815" stroke-width="1"/>
<line x1="466.4" y1="180.57" x2="466.4" y2="183.77" stroke="#231815" stroke-width="1.2"/>
<line x1="500.5" y1="182.17" x2="505.6" y2="182.17" stroke="#fe0000" stroke-width="1"/>
<line x1="505.6" y1="180.57" x2="505.6" y2="183.77" stroke="#fe0000" stroke-width="1.2"/>
<rect x="468.6" y="179.32" width="9.8" height="5.7" fill="#231815"/>
<rect x="478.4" y="179.32" width="22.6" height="5.7" fill="#fe0000"/>
<text x="510.8" y="191.27" font-size="17.5" text-anchor="middle" fill="#111">*</text>
<line x1="442.6" y1="191.05" x2="450.5" y2="191.05" stroke="#231815" stroke-width="1"/>
<line x1="442.6" y1="189.45" x2="442.6" y2="192.65" stroke="#231815" stroke-width="1.2"/>
<line x1="508.5" y1="191.05" x2="514.4" y2="191.05" stroke="#fe0000" stroke-width="1"/>
<line x1="514.4" y1="189.45" x2="514.4" y2="192.65" stroke="#fe0000" stroke-width="1.2"/>
<rect x="450.0" y="188.20" width="28.4" height="5.7" fill="#231815"/>
<rect x="478.4" y="188.20" width="30.6" height="5.7" fill="#fe0000"/>
<line x1="466.6" y1="199.93" x2="469.5" y2="199.93" stroke="#231815" stroke-width="1"/>
<line x1="466.6" y1="198.33" x2="466.6" y2="201.53" stroke="#231815" stroke-width="1.2"/>
<line x1="503.1" y1="199.93" x2="509.4" y2="199.93" stroke="#fe0000" stroke-width="1"/>
<line x1="509.4" y1="198.33" x2="509.4" y2="201.53" stroke="#fe0000" stroke-width="1.2"/>
<rect x="469.0" y="197.08" width="9.4" height="5.7" fill="#231815"/>
<rect x="478.4" y="197.08" width="25.2" height="5.7" fill="#fe0000"/>
<text x="514.0" y="209.03" font-size="17.5" text-anchor="middle" fill="#111">*</text>
<line x1="455.0" y1="208.81" x2="459.9" y2="208.81" stroke="#231815" stroke-width="1"/>
<line x1="455.0" y1="207.22" x2="455.0" y2="210.41" stroke="#231815" stroke-width="1.2"/>
<line x1="499.1" y1="208.81" x2="503.6" y2="208.81" stroke="#fe0000" stroke-width="1"/>
<line x1="503.6" y1="207.22" x2="503.6" y2="210.41" stroke="#fe0000" stroke-width="1.2"/>
<rect x="459.4" y="205.97" width="19.0" height="5.7" fill="#231815"/>
<rect x="478.4" y="205.97" width="21.2" height="5.7" fill="#fe0000"/>
<line x1="451.6" y1="217.70" x2="457.1" y2="217.70" stroke="#231815" stroke-width="1"/>
<line x1="451.6" y1="216.10" x2="451.6" y2="219.30" stroke="#231815" stroke-width="1.2"/>
<line x1="502.5" y1="217.70" x2="507.0" y2="217.70" stroke="#fe0000" stroke-width="1"/>
<line x1="507.0" y1="216.10" x2="507.0" y2="219.30" stroke="#fe0000" stroke-width="1.2"/>
<rect x="456.6" y="214.85" width="21.8" height="5.7" fill="#231815"/>
<rect x="478.4" y="214.85" width="24.6" height="5.7" fill="#fe0000"/>
<text x="512.0" y="226.80" font-size="17.5" text-anchor="middle" fill="#111">*</text>
<line x1="450.0" y1="226.58" x2="457.9" y2="226.58" stroke="#231815" stroke-width="1"/>
<line x1="450.0" y1="224.98" x2="450.0" y2="228.18" stroke="#231815" stroke-width="1.2"/>
<line x1="495.5" y1="226.58" x2="500.0" y2="226.58" stroke="#fe0000" stroke-width="1"/>
<line x1="500.0" y1="224.98" x2="500.0" y2="228.18" stroke="#fe0000" stroke-width="1.2"/>
<rect x="457.4" y="223.73" width="21.0" height="5.7" fill="#231815"/>
<rect x="478.4" y="223.73" width="17.6" height="5.7" fill="#fe0000"/>
<text x="504.8" y="235.68" font-size="17.5" text-anchor="middle" fill="#111">*</text>
<line x1="458.4" y1="235.46" x2="463.1" y2="235.46" stroke="#231815" stroke-width="1"/>
<line x1="458.4" y1="233.86" x2="458.4" y2="237.06" stroke="#231815" stroke-width="1.2"/>
<line x1="498.5" y1="235.46" x2="502.4" y2="235.46" stroke="#fe0000" stroke-width="1"/>
<line x1="502.4" y1="233.86" x2="502.4" y2="237.06" stroke="#fe0000" stroke-width="1.2"/>
<rect x="462.6" y="232.61" width="15.8" height="5.7" fill="#231815"/>
<rect x="478.4" y="232.61" width="20.6" height="5.7" fill="#fe0000"/>
<text x="508.4" y="244.56" font-size="17.5" text-anchor="middle" fill="#111">*</text>
<line x1="451.0" y1="244.35" x2="458.1" y2="244.35" stroke="#231815" stroke-width="1"/>
<line x1="451.0" y1="242.75" x2="451.0" y2="245.95" stroke="#231815" stroke-width="1.2"/>
<line x1="499.1" y1="244.35" x2="502.4" y2="244.35" stroke="#fe0000" stroke-width="1"/>
<line x1="502.4" y1="242.75" x2="502.4" y2="245.95" stroke="#fe0000" stroke-width="1.2"/>
<rect x="457.6" y="241.50" width="20.8" height="5.7" fill="#231815"/>
<rect x="478.4" y="241.50" width="21.2" height="5.7" fill="#fe0000"/>
<text x="507.8" y="253.45" font-size="17.5" text-anchor="middle" fill="#111">*</text>
<line x1="460.0" y1="253.23" x2="462.9" y2="253.23" stroke="#231815" stroke-width="1"/>
<line x1="460.0" y1="251.63" x2="460.0" y2="254.83" stroke="#231815" stroke-width="1.2"/>
<line x1="503.5" y1="253.23" x2="507.0" y2="253.23" stroke="#fe0000" stroke-width="1"/>
<line x1="507.0" y1="251.63" x2="507.0" y2="254.83" stroke="#fe0000" stroke-width="1.2"/>
<rect x="462.4" y="250.38" width="16.0" height="5.7" fill="#231815"/>
<rect x="478.4" y="250.38" width="25.6" height="5.7" fill="#fe0000"/>
<text x="512.0" y="262.33" font-size="17.5" text-anchor="middle" fill="#111">*</text>
<line x1="434.4" y1="262.11" x2="441.5" y2="262.11" stroke="#231815" stroke-width="1"/>
<line x1="434.4" y1="260.51" x2="434.4" y2="263.71" stroke="#231815" stroke-width="1.2"/>
<line x1="524.5" y1="262.11" x2="531.0" y2="262.11" stroke="#fe0000" stroke-width="1"/>
<line x1="531.0" y1="260.51" x2="531.0" y2="263.71" stroke="#fe0000" stroke-width="1.2"/>
<rect x="441.0" y="259.26" width="37.4" height="5.7" fill="#231815"/>
<rect x="478.4" y="259.26" width="46.6" height="5.7" fill="#fe0000"/>
<line x1="456.6" y1="271.00" x2="460.5" y2="271.00" stroke="#231815" stroke-width="1"/>
<line x1="456.6" y1="269.40" x2="456.6" y2="272.60" stroke="#231815" stroke-width="1.2"/>
<line x1="505.1" y1="271.00" x2="508.4" y2="271.00" stroke="#fe0000" stroke-width="1"/>
<line x1="508.4" y1="269.40" x2="508.4" y2="272.60" stroke="#fe0000" stroke-width="1.2"/>
<rect x="460.0" y="268.15" width="18.4" height="5.7" fill="#231815"/>
<rect x="478.4" y="268.15" width="27.2" height="5.7" fill="#fe0000"/>
<text x="513.4" y="280.10" font-size="17.5" text-anchor="middle" fill="#111">*</text>
<line x1="460.6" y1="279.88" x2="464.5" y2="279.88" stroke="#231815" stroke-width="1"/>
<line x1="460.6" y1="278.28" x2="460.6" y2="281.48" stroke="#231815" stroke-width="1.2"/>
<line x1="502.5" y1="279.88" x2="507.4" y2="279.88" stroke="#fe0000" stroke-width="1"/>
<line x1="507.4" y1="278.28" x2="507.4" y2="281.48" stroke="#fe0000" stroke-width="1.2"/>
<rect x="464.0" y="277.03" width="14.4" height="5.7" fill="#231815"/>
<rect x="478.4" y="277.03" width="24.6" height="5.7" fill="#fe0000"/>
<text x="513.8" y="288.98" font-size="17.5" text-anchor="middle" fill="#111">*</text>
<line x1="450.4" y1="288.76" x2="459.5" y2="288.76" stroke="#231815" stroke-width="1"/>
<line x1="450.4" y1="287.16" x2="450.4" y2="290.36" stroke="#231815" stroke-width="1.2"/>
<line x1="501.1" y1="288.76" x2="507.0" y2="288.76" stroke="#fe0000" stroke-width="1"/>
<line x1="507.0" y1="287.16" x2="507.0" y2="290.36" stroke="#fe0000" stroke-width="1.2"/>
<rect x="459.0" y="285.91" width="19.4" height="5.7" fill="#231815"/>
<rect x="478.4" y="285.91" width="23.2" height="5.7" fill="#fe0000"/>
<text x="512.4" y="297.86" font-size="17.5" text-anchor="middle" fill="#111">*</text>
<line x1="460.0" y1="297.64" x2="466.1" y2="297.64" stroke="#231815" stroke-width="1"/>
<line x1="460.0" y1="296.04" x2="460.0" y2="299.25" stroke="#231815" stroke-width="1.2"/>
<line x1="497.5" y1="297.64" x2="503.0" y2="297.64" stroke="#fe0000" stroke-width="1"/>
<line x1="503.0" y1="296.04" x2="503.0" y2="299.25" stroke="#fe0000" stroke-width="1.2"/>
<rect x="465.6" y="294.79" width="12.8" height="5.7" fill="#231815"/>
<rect x="478.4" y="294.79" width="19.6" height="5.7" fill="#fe0000"/>
<text x="508.4" y="306.75" font-size="17.5" text-anchor="middle" fill="#111">*</text>
<line x1="458.6" y1="306.53" x2="462.5" y2="306.53" stroke="#231815" stroke-width="1"/>
<line x1="458.6" y1="304.93" x2="458.6" y2="308.13" stroke="#231815" stroke-width="1.2"/>
<line x1="501.9" y1="306.53" x2="507.0" y2="306.53" stroke="#fe0000" stroke-width="1"/>
<line x1="507.0" y1="304.93" x2="507.0" y2="308.13" stroke="#fe0000" stroke-width="1.2"/>
<rect x="462.0" y="303.68" width="16.4" height="5.7" fill="#231815"/>
<rect x="478.4" y="303.68" width="24.0" height="5.7" fill="#fe0000"/>
<text x="511.8" y="315.63" font-size="17.5" text-anchor="middle" fill="#111">*</text>
<line x1="456.4" y1="315.41" x2="462.5" y2="315.41" stroke="#231815" stroke-width="1"/>
<line x1="456.4" y1="313.81" x2="456.4" y2="317.01" stroke="#231815" stroke-width="1.2"/>
<line x1="493.5" y1="315.41" x2="497.0" y2="315.41" stroke="#fe0000" stroke-width="1"/>
<line x1="497.0" y1="313.81" x2="497.0" y2="317.01" stroke="#fe0000" stroke-width="1.2"/>
<rect x="462.0" y="312.56" width="16.4" height="5.7" fill="#231815"/>
<rect x="478.4" y="312.56" width="15.6" height="5.7" fill="#fe0000"/>
<text x="504.4" y="324.51" font-size="17.5" text-anchor="middle" fill="#111">*</text>
<line x1="456.0" y1="324.29" x2="461.5" y2="324.29" stroke="#231815" stroke-width="1"/>
<line x1="456.0" y1="322.69" x2="456.0" y2="325.89" stroke="#231815" stroke-width="1.2"/>
<line x1="493.9" y1="324.29" x2="497.6" y2="324.29" stroke="#fe0000" stroke-width="1"/>
<line x1="497.6" y1="322.69" x2="497.6" y2="325.89" stroke="#fe0000" stroke-width="1.2"/>
<rect x="461.0" y="321.44" width="17.4" height="5.7" fill="#231815"/>
<rect x="478.4" y="321.44" width="16.0" height="5.7" fill="#fe0000"/>
<text x="502.4" y="333.39" font-size="17.5" text-anchor="middle" fill="#111">*</text>
<line x1="451.6" y1="333.18" x2="458.5" y2="333.18" stroke="#231815" stroke-width="1"/>
<line x1="451.6" y1="331.58" x2="451.6" y2="334.78" stroke="#231815" stroke-width="1.2"/>
<line x1="504.5" y1="333.18" x2="509.0" y2="333.18" stroke="#fe0000" stroke-width="1"/>
<line x1="509.0" y1="331.58" x2="509.0" y2="334.78" stroke="#fe0000" stroke-width="1.2"/>
<rect x="458.0" y="330.33" width="20.4" height="5.7" fill="#231815"/>
<rect x="478.4" y="330.33" width="26.6" height="5.7" fill="#fe0000"/>
<text x="514.4" y="342.28" font-size="17.5" text-anchor="middle" fill="#111">*</text>
<line x1="458.0" y1="342.06" x2="463.5" y2="342.06" stroke="#231815" stroke-width="1"/>
<line x1="458.0" y1="340.46" x2="458.0" y2="343.66" stroke="#231815" stroke-width="1.2"/>
<line x1="494.5" y1="342.06" x2="498.0" y2="342.06" stroke="#fe0000" stroke-width="1"/>
<line x1="498.0" y1="340.46" x2="498.0" y2="343.66" stroke="#fe0000" stroke-width="1.2"/>
<rect x="463.0" y="339.21" width="15.4" height="5.7" fill="#231815"/>
<rect x="478.4" y="339.21" width="16.6" height="5.7" fill="#fe0000"/>
<text x="503.4" y="351.16" font-size="17.5" text-anchor="middle" fill="#111">*</text>
<line x1="458.0" y1="350.94" x2="463.5" y2="350.94" stroke="#231815" stroke-width="1"/>
<line x1="458.0" y1="349.34" x2="458.0" y2="352.54" stroke="#231815" stroke-width="1.2"/>
<line x1="496.5" y1="350.94" x2="501.0" y2="350.94" stroke="#fe0000" stroke-width="1"/>
<line x1="501.0" y1="349.34" x2="501.0" y2="352.54" stroke="#fe0000" stroke-width="1.2"/>
<rect x="463.0" y="348.09" width="15.4" height="5.7" fill="#231815"/>
<rect x="478.4" y="348.09" width="18.6" height="5.7" fill="#fe0000"/>
<text x="506.0" y="360.04" font-size="17.5" text-anchor="middle" fill="#111">*</text>
<line x1="456.0" y1="359.83" x2="461.5" y2="359.83" stroke="#231815" stroke-width="1"/>
<line x1="456.0" y1="358.23" x2="456.0" y2="361.43" stroke="#231815" stroke-width="1.2"/>
<line x1="497.9" y1="359.83" x2="502.4" y2="359.83" stroke="#fe0000" stroke-width="1"/>
<line x1="502.4" y1="358.23" x2="502.4" y2="361.43" stroke="#fe0000" stroke-width="1.2"/>
<rect x="461.0" y="356.98" width="17.4" height="5.7" fill="#231815"/>
<rect x="478.4" y="356.98" width="20.0" height="5.7" fill="#fe0000"/>
<text x="506.8" y="368.93" font-size="17.5" text-anchor="middle" fill="#111">*</text>
<line x1="459.4" y1="368.71" x2="462.5" y2="368.71" stroke="#231815" stroke-width="1"/>
<line x1="459.4" y1="367.11" x2="459.4" y2="370.31" stroke="#231815" stroke-width="1.2"/>
<line x1="509.5" y1="368.71" x2="515.6" y2="368.71" stroke="#fe0000" stroke-width="1"/>
<line x1="515.6" y1="367.11" x2="515.6" y2="370.31" stroke="#fe0000" stroke-width="1.2"/>
<rect x="462.0" y="365.86" width="16.4" height="5.7" fill="#231815"/>
<rect x="478.4" y="365.86" width="31.6" height="5.7" fill="#fe0000"/>
<text x="520.4" y="377.81" font-size="17.5" text-anchor="middle" fill="#111">*</text>
<line x1="436.4" y1="377.59" x2="443.5" y2="377.59" stroke="#231815" stroke-width="1"/>
<line x1="436.4" y1="375.99" x2="436.4" y2="379.19" stroke="#231815" stroke-width="1.2"/>
<line x1="524.5" y1="377.59" x2="531.4" y2="377.59" stroke="#fe0000" stroke-width="1"/>
<line x1="531.4" y1="375.99" x2="531.4" y2="379.19" stroke="#fe0000" stroke-width="1.2"/>
<rect x="443.0" y="374.74" width="35.4" height="5.7" fill="#231815"/>
<rect x="478.4" y="374.74" width="46.6" height="5.7" fill="#fe0000"/>
<line x1="478.4" y1="158" x2="478.4" y2="383.0" stroke="#1a1a1a" stroke-width="0.8"/>
<line x1="45.1" y1="383.0" x2="162.4" y2="383.0" stroke="#444444" stroke-width="1"/>
<line x1="45.6" y1="383.0" x2="45.6" y2="387.0" stroke="#444444" stroke-width="0.9"/>
<text x="48.0" y="395.4" font-size="6.9" text-anchor="middle" fill="#1a1a1a" stroke="#1a1a1a" stroke-width="0.12">40</text>
<line x1="69" y1="383.0" x2="69" y2="387.0" stroke="#444444" stroke-width="0.9"/>
<text x="69.5" y="395.4" font-size="6.9" text-anchor="middle" fill="#1a1a1a" stroke="#1a1a1a" stroke-width="0.12">20</text>
<line x1="92" y1="383.0" x2="92" y2="387.0" stroke="#444444" stroke-width="0.9"/>
<text x="92.5" y="395.4" font-size="6.9" text-anchor="middle" fill="#1a1a1a" stroke="#1a1a1a" stroke-width="0.12">0</text>
<line x1="115.2" y1="383.0" x2="115.2" y2="387.0" stroke="#444444" stroke-width="0.9"/>
<text x="115.7" y="395.4" font-size="6.9" text-anchor="middle" fill="#1a1a1a" stroke="#1a1a1a" stroke-width="0.12">20</text>
<line x1="139" y1="383.0" x2="139" y2="387.0" stroke="#444444" stroke-width="0.9"/>
<text x="139.5" y="395.4" font-size="6.9" text-anchor="middle" fill="#1a1a1a" stroke="#1a1a1a" stroke-width="0.12">40</text>
<line x1="162" y1="383.0" x2="162" y2="387.0" stroke="#444444" stroke-width="0.9"/>
<text x="162.5" y="395.4" font-size="6.9" text-anchor="middle" fill="#1a1a1a" stroke="#1a1a1a" stroke-width="0.12">60</text>
<text x="92.5" y="407.8" font-size="11.2" text-anchor="middle" fill="#1a1a1a">α-band</text>
<line x1="171.6" y1="383.0" x2="289.4" y2="383.0" stroke="#444444" stroke-width="1"/>
<line x1="196" y1="383.0" x2="196" y2="387.0" stroke="#444444" stroke-width="0.9"/>
<text x="196.8" y="395.4" font-size="6.9" text-anchor="middle" fill="#1a1a1a" stroke="#1a1a1a" stroke-width="0.12">20</text>
<line x1="242" y1="383.0" x2="242" y2="387.0" stroke="#444444" stroke-width="0.9"/>
<text x="242.5" y="395.4" font-size="6.9" text-anchor="middle" fill="#1a1a1a" stroke="#1a1a1a" stroke-width="0.12">0</text>
<line x1="288.6" y1="383.0" x2="288.6" y2="387.0" stroke="#444444" stroke-width="0.9"/>
<text x="289.1" y="395.4" font-size="6.9" text-anchor="middle" fill="#1a1a1a" stroke="#1a1a1a" stroke-width="0.12">20</text>
<text x="242" y="407.8" font-size="11.2" text-anchor="middle" fill="#1a1a1a">β-band</text>
<line x1="298.40000000000003" y1="383.0" x2="411.2" y2="383.0" stroke="#444444" stroke-width="1"/>
<line x1="299.5" y1="383.0" x2="299.5" y2="387.0" stroke="#444444" stroke-width="0.9"/>
<text x="301.1" y="395.4" font-size="6.9" text-anchor="middle" fill="#1a1a1a" stroke="#1a1a1a" stroke-width="0.12">40</text>
<line x1="319" y1="383.0" x2="319" y2="387.0" stroke="#444444" stroke-width="0.9"/>
<text x="319.5" y="395.4" font-size="6.9" text-anchor="middle" fill="#1a1a1a" stroke="#1a1a1a" stroke-width="0.12">20</text>
<line x1="337.6" y1="383.0" x2="337.6" y2="387.0" stroke="#444444" stroke-width="0.9"/>
<text x="338.1" y="395.4" font-size="6.9" text-anchor="middle" fill="#1a1a1a" stroke="#1a1a1a" stroke-width="0.12">0</text>
<line x1="356" y1="383.0" x2="356" y2="387.0" stroke="#444444" stroke-width="0.9"/>
<text x="356.5" y="395.4" font-size="6.9" text-anchor="middle" fill="#1a1a1a" stroke="#1a1a1a" stroke-width="0.12">20</text>
<line x1="374" y1="383.0" x2="374" y2="387.0" stroke="#444444" stroke-width="0.9"/>
<text x="374.5" y="395.4" font-size="6.9" text-anchor="middle" fill="#1a1a1a" stroke="#1a1a1a" stroke-width="0.12">40</text>
<line x1="392" y1="383.0" x2="392" y2="387.0" stroke="#444444" stroke-width="0.9"/>
<text x="392.5" y="395.4" font-size="6.9" text-anchor="middle" fill="#1a1a1a" stroke="#1a1a1a" stroke-width="0.12">60</text>
<line x1="410.4" y1="383.0" x2="410.4" y2="387.0" stroke="#444444" stroke-width="0.9"/>
<text x="410.9" y="395.4" font-size="6.9" text-anchor="middle" fill="#1a1a1a" stroke="#1a1a1a" stroke-width="0.12">80</text>
<text x="338" y="407.8" font-size="11.2" text-anchor="middle" fill="#1a1a1a">θ-band</text>
<line x1="421.0" y1="383.0" x2="533.4" y2="383.0" stroke="#444444" stroke-width="1"/>
<line x1="422" y1="383.0" x2="422" y2="387.0" stroke="#444444" stroke-width="0.9"/>
<text x="424.3" y="395.4" font-size="6.9" text-anchor="middle" fill="#1a1a1a" stroke="#1a1a1a" stroke-width="0.12">80</text>
<line x1="437.4" y1="383.0" x2="437.4" y2="387.0" stroke="#444444" stroke-width="0.9"/>
<text x="437.9" y="395.4" font-size="6.9" text-anchor="middle" fill="#1a1a1a" stroke="#1a1a1a" stroke-width="0.12">60</text>
<line x1="451" y1="383.0" x2="451" y2="387.0" stroke="#444444" stroke-width="0.9"/>
<text x="451.5" y="395.4" font-size="6.9" text-anchor="middle" fill="#1a1a1a" stroke="#1a1a1a" stroke-width="0.12">40</text>
<line x1="464.6" y1="383.0" x2="464.6" y2="387.0" stroke="#444444" stroke-width="0.9"/>
<text x="465.1" y="395.4" font-size="6.9" text-anchor="middle" fill="#1a1a1a" stroke="#1a1a1a" stroke-width="0.12">20</text>
<line x1="478.4" y1="383.0" x2="478.4" y2="387.0" stroke="#444444" stroke-width="0.9"/>
<text x="478.9" y="395.4" font-size="6.9" text-anchor="middle" fill="#1a1a1a" stroke="#1a1a1a" stroke-width="0.12">0</text>
<line x1="491.6" y1="383.0" x2="491.6" y2="387.0" stroke="#444444" stroke-width="0.9"/>
<text x="492.1" y="395.4" font-size="6.9" text-anchor="middle" fill="#1a1a1a" stroke="#1a1a1a" stroke-width="0.12">20</text>
<line x1="505" y1="383.0" x2="505" y2="387.0" stroke="#444444" stroke-width="0.9"/>
<text x="505.5" y="395.4" font-size="6.9" text-anchor="middle" fill="#1a1a1a" stroke="#1a1a1a" stroke-width="0.12">40</text>
<line x1="518.6" y1="383.0" x2="518.6" y2="387.0" stroke="#444444" stroke-width="0.9"/>
<text x="519.1" y="395.4" font-size="6.9" text-anchor="middle" fill="#1a1a1a" stroke="#1a1a1a" stroke-width="0.12">60</text>
<line x1="532.4" y1="383.0" x2="532.4" y2="387.0" stroke="#444444" stroke-width="0.9"/>
<text x="532.9" y="395.4" font-size="6.9" text-anchor="middle" fill="#1a1a1a" stroke="#1a1a1a" stroke-width="0.12">80</text>
<text x="479" y="407.8" font-size="11.2" text-anchor="middle" fill="#1a1a1a">δ-band</text>
<line x1="45.6" y1="158" x2="45.6" y2="383.5" stroke="#444444" stroke-width="0.95"/>
<line x1="42.6" y1="164.40" x2="45.5" y2="164.40" stroke="#444444" stroke-width="0.8"/>
<text x="41.8" y="167.05" font-size="7.4" text-anchor="end" fill="#1a1a1a" stroke="#1a1a1a" stroke-width="0.12">PZ</text>
<line x1="42.6" y1="173.28" x2="45.5" y2="173.28" stroke="#444444" stroke-width="0.8"/>
<text x="41.8" y="175.93" font-size="7.4" text-anchor="end" fill="#1a1a1a" stroke="#1a1a1a" stroke-width="0.12">P10</text>
<line x1="42.6" y1="182.17" x2="45.5" y2="182.17" stroke="#444444" stroke-width="0.8"/>
<text x="41.8" y="184.82" font-size="7.4" text-anchor="end" fill="#1a1a1a" stroke="#1a1a1a" stroke-width="0.12">T10</text>
<line x1="42.6" y1="191.05" x2="45.5" y2="191.05" stroke="#444444" stroke-width="0.8"/>
<text x="41.8" y="193.70" font-size="7.4" text-anchor="end" fill="#1a1a1a" stroke="#1a1a1a" stroke-width="0.12">F10</text>
<line x1="42.6" y1="199.93" x2="45.5" y2="199.93" stroke="#444444" stroke-width="0.8"/>
<text x="41.8" y="202.58" font-size="7.4" text-anchor="end" fill="#1a1a1a" stroke="#1a1a1a" stroke-width="0.12">P8</text>
<line x1="42.6" y1="208.81" x2="45.5" y2="208.81" stroke="#444444" stroke-width="0.8"/>
<text x="41.8" y="211.47" font-size="7.4" text-anchor="end" fill="#1a1a1a" stroke="#1a1a1a" stroke-width="0.12">T8</text>
<line x1="42.6" y1="217.70" x2="45.5" y2="217.70" stroke="#444444" stroke-width="0.8"/>
<text x="41.8" y="220.35" font-size="7.4" text-anchor="end" fill="#1a1a1a" stroke="#1a1a1a" stroke-width="0.12">F8</text>
<line x1="42.6" y1="226.58" x2="45.5" y2="226.58" stroke="#444444" stroke-width="0.8"/>
<text x="41.8" y="229.23" font-size="7.4" text-anchor="end" fill="#1a1a1a" stroke="#1a1a1a" stroke-width="0.12">O2</text>
<line x1="42.6" y1="235.46" x2="45.5" y2="235.46" stroke="#444444" stroke-width="0.8"/>
<text x="41.8" y="238.11" font-size="7.4" text-anchor="end" fill="#1a1a1a" stroke="#1a1a1a" stroke-width="0.12">P4</text>
<line x1="42.6" y1="244.35" x2="45.5" y2="244.35" stroke="#444444" stroke-width="0.8"/>
<text x="41.8" y="247.00" font-size="7.4" text-anchor="end" fill="#1a1a1a" stroke="#1a1a1a" stroke-width="0.12">C4</text>
<line x1="42.6" y1="253.23" x2="45.5" y2="253.23" stroke="#444444" stroke-width="0.8"/>
<text x="41.8" y="255.88" font-size="7.4" text-anchor="end" fill="#1a1a1a" stroke="#1a1a1a" stroke-width="0.12">F4</text>
<line x1="42.6" y1="262.11" x2="45.5" y2="262.11" stroke="#444444" stroke-width="0.8"/>
<text x="41.8" y="264.76" font-size="7.4" text-anchor="end" fill="#1a1a1a" stroke="#1a1a1a" stroke-width="0.12">FP2</text>
<line x1="42.6" y1="271.00" x2="45.5" y2="271.00" stroke="#444444" stroke-width="0.8"/>
<text x="41.8" y="273.65" font-size="7.4" text-anchor="end" fill="#1a1a1a" stroke="#1a1a1a" stroke-width="0.12">FZ</text>
<line x1="42.6" y1="279.88" x2="45.5" y2="279.88" stroke="#444444" stroke-width="0.8"/>
<text x="41.8" y="282.53" font-size="7.4" text-anchor="end" fill="#1a1a1a" stroke="#1a1a1a" stroke-width="0.12">CZ</text>
<line x1="42.6" y1="288.76" x2="45.5" y2="288.76" stroke="#444444" stroke-width="0.8"/>
<text x="41.8" y="291.41" font-size="7.4" text-anchor="end" fill="#1a1a1a" stroke="#1a1a1a" stroke-width="0.12">P9</text>
<line x1="42.6" y1="297.64" x2="45.5" y2="297.64" stroke="#444444" stroke-width="0.8"/>
<text x="41.8" y="300.29" font-size="7.4" text-anchor="end" fill="#1a1a1a" stroke="#1a1a1a" stroke-width="0.12">T9</text>
<line x1="42.6" y1="306.53" x2="45.5" y2="306.53" stroke="#444444" stroke-width="0.8"/>
<text x="41.8" y="309.18" font-size="7.4" text-anchor="end" fill="#1a1a1a" stroke="#1a1a1a" stroke-width="0.12">F9</text>
<line x1="42.6" y1="315.41" x2="45.5" y2="315.41" stroke="#444444" stroke-width="0.8"/>
<text x="41.8" y="318.06" font-size="7.4" text-anchor="end" fill="#1a1a1a" stroke="#1a1a1a" stroke-width="0.12">P7</text>
<line x1="42.6" y1="324.29" x2="45.5" y2="324.29" stroke="#444444" stroke-width="0.8"/>
<text x="41.8" y="326.94" font-size="7.4" text-anchor="end" fill="#1a1a1a" stroke="#1a1a1a" stroke-width="0.12">T7</text>
<line x1="42.6" y1="333.18" x2="45.5" y2="333.18" stroke="#444444" stroke-width="0.8"/>
<text x="41.8" y="335.83" font-size="7.4" text-anchor="end" fill="#1a1a1a" stroke="#1a1a1a" stroke-width="0.12">F7</text>
<line x1="42.6" y1="342.06" x2="45.5" y2="342.06" stroke="#444444" stroke-width="0.8"/>
<text x="41.8" y="344.71" font-size="7.4" text-anchor="end" fill="#1a1a1a" stroke="#1a1a1a" stroke-width="0.12">O1</text>
<line x1="42.6" y1="350.94" x2="45.5" y2="350.94" stroke="#444444" stroke-width="0.8"/>
<text x="41.8" y="353.59" font-size="7.4" text-anchor="end" fill="#1a1a1a" stroke="#1a1a1a" stroke-width="0.12">P3</text>
<line x1="42.6" y1="359.83" x2="45.5" y2="359.83" stroke="#444444" stroke-width="0.8"/>
<text x="41.8" y="362.48" font-size="7.4" text-anchor="end" fill="#1a1a1a" stroke="#1a1a1a" stroke-width="0.12">C3</text>
<line x1="42.6" y1="368.71" x2="45.5" y2="368.71" stroke="#444444" stroke-width="0.8"/>
<text x="41.8" y="371.36" font-size="7.4" text-anchor="end" fill="#1a1a1a" stroke="#1a1a1a" stroke-width="0.12">F3</text>
<line x1="42.6" y1="377.59" x2="45.5" y2="377.59" stroke="#444444" stroke-width="0.8"/>
<text x="41.8" y="380.24" font-size="7.4" text-anchor="end" fill="#1a1a1a" stroke="#1a1a1a" stroke-width="0.12">FP1</text>
<text transform="translate(14.8,272.2) rotate(-90)" font-size="11.1" text-anchor="middle" fill="#1a1a1a">Power Spectral Density</text>
<text x="6.4" y="154.7" font-size="10.5" fill="#111">B</text>
<text x="5.8" y="43.2" font-size="10.6" fill="#111">A</text>
<text x="43.3" y="56.6" font-size="10.6" text-anchor="middle" fill="#222">α</text>
<text x="109.8" y="56.6" font-size="10.6" text-anchor="middle" fill="#222">β</text>
<text x="176" y="56.6" font-size="10.6" text-anchor="middle" fill="#222">θ</text>
<text x="240.9" y="56.6" font-size="10.6" text-anchor="middle" fill="#222">δ</text>
<text x="313.5" y="56.6" font-size="10.6" text-anchor="middle" fill="#f01010">α</text>
<text x="380" y="56.6" font-size="10.6" text-anchor="middle" fill="#f01010">β</text>
<text x="446.5" y="56.6" font-size="10.6" text-anchor="middle" fill="#f01010">θ</text>
<text x="511.7" y="56.6" font-size="10.6" text-anchor="middle" fill="#f01010">δ</text>
<rect x="457.6" y="7.4" width="12.8" height="5" fill="#fe0000"/>
<rect x="457.6" y="18.8" width="12.8" height="4.8" fill="#231815"/>
<text x="474" y="12.5" font-size="7.6" fill="#111" stroke="#111" stroke-width="0.1" textLength="67" lengthAdjust="spacingAndGlyphs">People with epilepsy</text>
<text x="474" y="23.5" font-size="7.6" fill="#111" stroke="#111" stroke-width="0.1" textLength="70" lengthAdjust="spacingAndGlyphs">Non-epilepsy controls</text>
<defs><linearGradient id="jet" x1="0" x2="1" y1="0" y2="0">
<stop offset="0" stop-color="#00008f"/><stop offset="0.11" stop-color="#0000ff"/><stop offset="0.36" stop-color="#00ffff"/>
<stop offset="0.5" stop-color="#80ff80"/><stop offset="0.62" stop-color="#ffff00"/><stop offset="0.87" stop-color="#ff0000"/><stop offset="1" stop-color="#800000"/>
</linearGradient></defs>
<rect x="460.6" y="28.6" width="78.8" height="9" fill="url(#jet)"/>
<text x="463.4" y="44" font-size="6" text-anchor="middle" fill="#111">-</text>
<text x="535" y="44.2" font-size="6" text-anchor="middle" fill="#111">+</text>
<defs><clipPath id="cp0"><circle cx="43.7" cy="91.3" r="27.0"/></clipPath><filter id="bl0" x="-30%" y="-30%" width="160%" height="160%"><feGaussianBlur stdDeviation="6"/></filter></defs>
<g clip-path="url(#cp0)"><rect x="12.700000000000003" y="60.3" width="62.0" height="62.0" fill="#3cf880"/>
<g transform="translate(10,60) scale(0.15659)">
<g filter="url(#bl0)">
<ellipse cx="215" cy="60" rx="130" ry="70" fill="#50ff68"/>
<ellipse cx="72" cy="170" rx="52" ry="115" fill="#10e8f0"/>
<ellipse cx="372" cy="160" rx="44" ry="105" fill="#10e8f0"/>
<ellipse cx="66" cy="262" rx="52" ry="68" fill="#0070ff"/>
<ellipse cx="52" cy="268" rx="30" ry="42" fill="#0010c0"/>
<ellipse cx="384" cy="215" rx="28" ry="54" fill="#0080ff"/>
<ellipse cx="392" cy="215" rx="14" ry="32" fill="#0030e0"/>
<path d="M100,385 C122,320 122,275 112,212 C102,132 152,76 215,74 C280,74 328,128 320,200 C314,250 300,270 318,300 C338,330 350,355 354,385 Z" fill="#98ff48"/>
<path d="M128,385 C150,325 150,280 136,225 C122,150 162,92 215,90 C266,90 306,135 300,195 C296,240 280,268 298,295 C320,318 338,345 342,385 Z" fill="#c8ff38"/>
<path d="M150,385 C168,335 186,292 177,255 C158,222 138,188 146,150 C156,116 190,106 215,106 C250,106 285,124 286,162 C288,200 262,232 256,256 C262,284 300,294 336,300 L342,385 Z" fill="#ffe600"/>
<ellipse cx="242" cy="345" rx="96" ry="56" fill="#ffb400"/>
<ellipse cx="244" cy="348" rx="82" ry="48" fill="#ff7800"/>
<ellipse cx="246" cy="352" rx="62" ry="40" fill="#ff2400"/>
<ellipse cx="243" cy="366" rx="40" ry="22" fill="#c00000"/>
</g>
<g fill="none" stroke="#101010" stroke-width="2.6" stroke-opacity="0.85">
<ellipse cx="66" cy="262" rx="52" ry="68"/>
<ellipse cx="52" cy="268" rx="30" ry="42"/>
<ellipse cx="384" cy="215" rx="28" ry="54"/>
<path d="M100,385 C122,320 122,275 112,212 C102,132 152,76 215,74 C280,74 328,128 320,200 C314,250 300,270 318,300 C338,330 350,355 354,385 Z"/>
<path d="M150,385 C168,335 186,292 177,255 C158,222 138,188 146,150 C156,116 190,106 215,106 C250,106 285,124 286,162 C288,200 262,232 256,256 C262,284 300,294 336,300 L342,385 Z"/>
<ellipse cx="244" cy="348" rx="82" ry="48"/>
<ellipse cx="246" cy="352" rx="62" ry="40"/>
<path d="M110,62 C90,110 80,160 86,210 C92,250 100,290 96,330"/>
<path d="M140,48 C118,100 100,170 112,240 C118,280 120,310 116,350"/>
<path d="M322,58 C340,110 352,160 346,210 C340,250 336,280 352,320"/>
<path d="M292,46 C318,100 338,150 332,210 C328,240 322,262 336,290"/>
</g></g></g>
<ellipse cx="43.5" cy="91.5" rx="21.4" ry="19.9" fill="none" stroke="#111" stroke-width="0.55"/>
<path d="M39.7,72.0 L43.5,68.1 L47.3,72.0" fill="none" stroke="#111" stroke-width="0.5"/>
<path d="M22.3,88.1 q-2,0.4 -1.8,3.4 q0.1,3 1.8,3.4" fill="none" stroke="#111" stroke-width="0.45"/>
<path d="M64.7,88.1 q2,0.4 1.8,3.4 q-0.1,3 -1.8,3.4" fill="none" stroke="#111" stroke-width="0.45"/>
<circle cx="36.9" cy="71.8" r="1.05" fill="#22040c"/>
<circle cx="49.1" cy="71.8" r="1.05" fill="#22040c"/>
<circle cx="23.0" cy="75.8" r="1.05" fill="#22040c"/>
<circle cx="64.4" cy="75.8" r="1.05" fill="#22040c"/>
<circle cx="26.5" cy="79.0" r="1.05" fill="#22040c"/>
<circle cx="60.1" cy="79.0" r="1.05" fill="#22040c"/>
<circle cx="34.3" cy="80.9" r="1.05" fill="#22040c"/>
<circle cx="43.5" cy="80.9" r="1.05" fill="#22040c"/>
<circle cx="52.3" cy="80.9" r="1.05" fill="#22040c"/>
<circle cx="17.8" cy="91.5" r="1.05" fill="#22040c"/>
<circle cx="21.8" cy="91.5" r="1.05" fill="#22040c"/>
<circle cx="32.7" cy="91.5" r="1.05" fill="#22040c"/>
<circle cx="43.5" cy="91.5" r="1.05" fill="#22040c"/>
<circle cx="53.9" cy="91.5" r="1.05" fill="#22040c"/>
<circle cx="64.8" cy="91.5" r="1.05" fill="#22040c"/>
<circle cx="69.5" cy="91.5" r="1.05" fill="#22040c"/>
<circle cx="34.3" cy="101.5" r="1.05" fill="#22040c"/>
<circle cx="43.5" cy="101.5" r="1.05" fill="#22040c"/>
<circle cx="52.3" cy="101.5" r="1.05" fill="#22040c"/>
<circle cx="26.5" cy="103.1" r="1.05" fill="#22040c"/>
<circle cx="60.1" cy="103.1" r="1.05" fill="#22040c"/>
<circle cx="23.0" cy="106.7" r="1.05" fill="#22040c"/>
<circle cx="64.4" cy="106.7" r="1.05" fill="#22040c"/>
<circle cx="36.9" cy="110.5" r="1.05" fill="#22040c"/>
<circle cx="49.1" cy="110.5" r="1.05" fill="#22040c"/>
<defs><clipPath id="cp1"><circle cx="110" cy="91.3" r="26.7"/></clipPath><filter id="bl1" x="-30%" y="-30%" width="160%" height="160%"><feGaussianBlur stdDeviation="7"/></filter></defs>
<g clip-path="url(#cp1)"><rect x="79.3" y="60.599999999999994" width="61.4" height="61.4" fill="#50fc90"/>
<g transform="translate(75,60) scale(0.15659)">
<g filter="url(#bl1)">
<path d="M185,20 C198,80 200,130 195,180 C190,225 182,250 200,262 L262,262 C272,220 286,150 300,100 C306,70 302,50 296,20 Z" fill="#b0ff50"/>
<ellipse cx="242" cy="40" rx="72" ry="36" fill="#f4f018"/>
<ellipse cx="240" cy="26" rx="40" ry="16" fill="#ffc000"/>
<ellipse cx="112" cy="112" rx="62" ry="58" fill="#18e8f0"/>
<ellipse cx="128" cy="215" rx="22" ry="52" transform="rotate(-22 128 215)" fill="#10d4ff"/>
<ellipse cx="336" cy="96" rx="36" ry="68" transform="rotate(10 336 96)" fill="#18e8f0"/>
<ellipse cx="330" cy="232" rx="14" ry="30" transform="rotate(15 330 232)" fill="#10d4ff"/>
<ellipse cx="358" cy="302" rx="36" ry="42" fill="#20e8f0"/>
<ellipse cx="98" cy="290" rx="60" ry="50" fill="#0088ff"/>
<ellipse cx="82" cy="296" rx="40" ry="34" fill="#0030f0"/>
<ellipse cx="72" cy="300" rx="24" ry="20" fill="#0000a0"/>
<ellipse cx="62" cy="185" rx="22" ry="48" fill="#f0f020"/>
<ellipse cx="54" cy="185" rx="15" ry="38" fill="#ff7000"/>
<ellipse cx="48" cy="185" rx="8" ry="22" fill="#ff3000"/>
<ellipse cx="386" cy="205" rx="22" ry="52" fill="#f0f020"/>
<ellipse cx="394" cy="205" rx="14" ry="40" fill="#ff7000"/>
<path d="M172,385 C172,320 176,262 200,236 C222,214 252,226 264,252 C278,292 312,322 334,348 L322,385 Z" fill="#c0ff40"/>
<path d="M186,385 C184,322 188,270 208,248 C226,232 246,240 256,264 C268,300 298,334 312,358 L300,385 Z" fill="#f8f010"/>
<path d="M194,385 C190,322 194,270 214,252 C234,240 250,258 258,290 C264,330 280,355 290,385 Z" fill="#ff9000"/>
<ellipse cx="228" cy="322" rx="30" ry="60" fill="#ff4400"/>
</g>
<g fill="none" stroke="#101010" stroke-width="2.6" stroke-opacity="0.85">
<ellipse cx="242" cy="40" rx="72" ry="36"/>
<ellipse cx="112" cy="112" rx="62" ry="58"/>
<ellipse cx="128" cy="215" rx="22" ry="52" transform="rotate(-22 128 215)"/>
<ellipse cx="336" cy="96" rx="36" ry="68" transform="rotate(10 336 96)"/>
<ellipse cx="330" cy="232" rx="14" ry="30" transform="rotate(15 330 232)"/>
<ellipse cx="98" cy="290" rx="60" ry="50"/>
<ellipse cx="82" cy="296" rx="40" ry="34"/>
<ellipse cx="72" cy="300" rx="24" ry="20"/>
<ellipse cx="62" cy="185" rx="22" ry="48"/>
<ellipse cx="54" cy="185" rx="15" ry="38"/>
<ellipse cx="386" cy="205" rx="22" ry="52"/>
<ellipse cx="394" cy="205" rx="14" ry="40"/>
<path d="M172,385 C172,320 176,262 200,236 C222,214 252,226 264,252 C278,292 312,322 334,348 L322,385 Z"/>
<path d="M186,385 C184,322 188,270 208,248 C226,232 246,240 256,264 C268,300 298,334 312,358 L300,385 Z"/>
<path d="M194,385 C190,322 194,270 214,252 C234,240 250,258 258,290 C264,330 280,355 290,385 Z"/>
<ellipse cx="228" cy="322" rx="30" ry="60"/>
<path d="M170,45 C165,100 160,150 150,190"/>
<path d="M300,40 C298,90 280,140 282,190 C284,230 300,260 322,290"/>
<ellipse cx="213" cy="150" rx="13" ry="17"/>
<circle cx="243" cy="64" r="9"/>
<circle cx="222" cy="62" r="8"/>
</g></g></g>
<ellipse cx="109.8" cy="91.5" rx="21.4" ry="19.9" fill="none" stroke="#111" stroke-width="0.55"/>
<path d="M106.0,72.0 L109.8,68.1 L113.6,72.0" fill="none" stroke="#111" stroke-width="0.5"/>
<path d="M88.6,88.1 q-2,0.4 -1.8,3.4 q0.1,3 1.8,3.4" fill="none" stroke="#111" stroke-width="0.45"/>
<path d="M131.0,88.1 q2,0.4 1.8,3.4 q-0.1,3 -1.8,3.4" fill="none" stroke="#111" stroke-width="0.45"/>
<circle cx="103.2" cy="71.8" r="1.05" fill="#22040c"/>
<circle cx="115.4" cy="71.8" r="1.05" fill="#22040c"/>
<circle cx="89.3" cy="75.8" r="1.05" fill="#22040c"/>
<circle cx="130.7" cy="75.8" r="1.05" fill="#22040c"/>
<circle cx="92.8" cy="79.0" r="1.05" fill="#22040c"/>
<circle cx="126.4" cy="79.0" r="1.05" fill="#22040c"/>
<circle cx="100.6" cy="80.9" r="1.05" fill="#22040c"/>
<circle cx="109.8" cy="80.9" r="1.05" fill="#22040c"/>
<circle cx="118.6" cy="80.9" r="1.05" fill="#22040c"/>
<circle cx="84.1" cy="91.5" r="1.05" fill="#22040c"/>
<circle cx="88.1" cy="91.5" r="1.05" fill="#22040c"/>
<circle cx="99.0" cy="91.5" r="1.05" fill="#22040c"/>
<circle cx="109.8" cy="91.5" r="1.05" fill="#22040c"/>
<circle cx="120.2" cy="91.5" r="1.05" fill="#22040c"/>
<circle cx="131.1" cy="91.5" r="1.05" fill="#22040c"/>
<circle cx="135.8" cy="91.5" r="1.05" fill="#22040c"/>
<circle cx="100.6" cy="101.5" r="1.05" fill="#22040c"/>
<circle cx="109.8" cy="101.5" r="1.05" fill="#22040c"/>
<circle cx="118.6" cy="101.5" r="1.05" fill="#22040c"/>
<circle cx="92.8" cy="103.1" r="1.05" fill="#22040c"/>
<circle cx="126.4" cy="103.1" r="1.05" fill="#22040c"/>
<circle cx="89.3" cy="106.7" r="1.05" fill="#22040c"/>
<circle cx="130.7" cy="106.7" r="1.05" fill="#22040c"/>
<circle cx="103.2" cy="110.5" r="1.05" fill="#22040c"/>
<circle cx="115.4" cy="110.5" r="1.05" fill="#22040c"/>
<defs><clipPath id="cp2"><circle cx="176.2" cy="90.8" r="26.4"/></clipPath><filter id="bl2" x="-30%" y="-30%" width="160%" height="160%"><feGaussianBlur stdDeviation="6"/></filter></defs>
<g clip-path="url(#cp2)"><rect x="145.79999999999998" y="60.400000000000006" width="60.8" height="60.8" fill="#30f2b0"/>
<g transform="translate(140,60) scale(0.15659)">
<g filter="url(#bl2)">
<path d="M60,110 C75,150 95,190 105,215 C140,235 160,240 170,262 C180,300 185,340 190,380 L40,380 Z" fill="#28e8e0"/>
<path d="M55,180 C70,220 90,250 110,262 C140,280 150,300 152,330 L150,380 L40,380 Z" fill="#20d8f8"/>
<path d="M213,98 C222,62 262,62 286,90 C302,116 292,142 260,147 C228,152 204,132 213,98Z" fill="#70ff80"/>
<ellipse cx="352" cy="185" rx="36" ry="78" transform="rotate(-12 352 185)" fill="#78ff78"/>
<ellipse cx="366" cy="196" rx="18" ry="36" transform="rotate(-5 366 196)" fill="#c8ff38"/>
<ellipse cx="368" cy="196" rx="11" ry="22" fill="#ffe000"/>
<ellipse cx="370" cy="196" rx="6" ry="12" fill="#ff9000"/>
<ellipse cx="350" cy="316" rx="105" ry="64" transform="rotate(-45 350 316)" fill="#a0ff58"/>
<ellipse cx="352" cy="318" rx="94" ry="50" transform="rotate(-45 352 318)" fill="#f0f018"/>
<ellipse cx="354" cy="320" rx="82" ry="36" transform="rotate(-45 354 320)" fill="#ffa000"/>
<ellipse cx="356" cy="322" rx="68" ry="23" transform="rotate(-45 356 322)" fill="#ff3000"/>
<ellipse cx="232" cy="262" rx="56" ry="60" fill="#98ff60"/>
<ellipse cx="232" cy="262" rx="46" ry="50" fill="#f0f018"/>
<ellipse cx="232" cy="262" rx="37" ry="40" fill="#ffb000"/>
<ellipse cx="232" cy="262" rx="28" ry="30" fill="#ff6800"/>
<ellipse cx="232" cy="262" rx="19" ry="20" fill="#ff1800"/>
<ellipse cx="232" cy="263" rx="9" ry="10" fill="#a00000"/>
</g>
<g fill="none" stroke="#101010" stroke-width="2.6" stroke-opacity="0.85">
<path d="M213,98 C222,62 262,62 286,90 C302,116 292,142 260,147 C228,152 204,132 213,98Z"/>
<ellipse cx="352" cy="185" rx="36" ry="78" transform="rotate(-12 352 185)"/>
<ellipse cx="366" cy="196" rx="18" ry="36" transform="rotate(-5 366 196)"/>
<ellipse cx="350" cy="316" rx="105" ry="64" transform="rotate(-45 350 316)"/>
<ellipse cx="352" cy="318" rx="94" ry="50" transform="rotate(-45 352 318)"/>
<ellipse cx="354" cy="320" rx="82" ry="36" transform="rotate(-45 354 320)"/>
<ellipse cx="356" cy="322" rx="68" ry="23" transform="rotate(-45 356 322)"/>
<ellipse cx="232" cy="262" rx="56" ry="60"/>
<ellipse cx="232" cy="262" rx="46" ry="50"/>
<ellipse cx="232" cy="262" rx="37" ry="40"/>
<ellipse cx="232" cy="262" rx="28" ry="30"/>
<ellipse cx="232" cy="262" rx="19" ry="20"/>
<path d="M85,120 C95,160 100,190 104,214 C135,232 160,240 172,262 C182,300 186,340 190,370"/>
<path d="M105,214 C95,235 100,250 112,262"/>
<path d="M320,120 C330,150 335,180 330,210 C322,250 300,270 290,290"/>
</g></g></g>
<ellipse cx="176.0" cy="91.0" rx="21.4" ry="19.9" fill="none" stroke="#111" stroke-width="0.55"/>
<path d="M172.2,71.5 L176.0,67.6 L179.8,71.5" fill="none" stroke="#111" stroke-width="0.5"/>
<path d="M154.8,87.6 q-2,0.4 -1.8,3.4 q0.1,3 1.8,3.4" fill="none" stroke="#111" stroke-width="0.45"/>
<path d="M197.2,87.6 q2,0.4 1.8,3.4 q-0.1,3 -1.8,3.4" fill="none" stroke="#111" stroke-width="0.45"/>
<circle cx="169.4" cy="71.3" r="1.05" fill="#22040c"/>
<circle cx="181.6" cy="71.3" r="1.05" fill="#22040c"/>
<circle cx="155.5" cy="75.3" r="1.05" fill="#22040c"/>
<circle cx="196.9" cy="75.3" r="1.05" fill="#22040c"/>
<circle cx="159.0" cy="78.5" r="1.05" fill="#22040c"/>
<circle cx="192.6" cy="78.5" r="1.05" fill="#22040c"/>
<circle cx="166.8" cy="80.4" r="1.05" fill="#22040c"/>
<circle cx="176.0" cy="80.4" r="1.05" fill="#22040c"/>
<circle cx="184.8" cy="80.4" r="1.05" fill="#22040c"/>
<circle cx="150.3" cy="91.0" r="1.05" fill="#22040c"/>
<circle cx="154.3" cy="91.0" r="1.05" fill="#22040c"/>
<circle cx="165.2" cy="91.0" r="1.05" fill="#22040c"/>
<circle cx="176.0" cy="91.0" r="1.05" fill="#22040c"/>
<circle cx="186.4" cy="91.0" r="1.05" fill="#22040c"/>
<circle cx="197.3" cy="91.0" r="1.05" fill="#22040c"/>
<circle cx="202.0" cy="91.0" r="1.05" fill="#22040c"/>
<circle cx="166.8" cy="101.0" r="1.05" fill="#22040c"/>
<circle cx="176.0" cy="101.0" r="1.05" fill="#22040c"/>
<circle cx="184.8" cy="101.0" r="1.05" fill="#22040c"/>
<circle cx="159.0" cy="102.6" r="1.05" fill="#22040c"/>
<circle cx="192.6" cy="102.6" r="1.05" fill="#22040c"/>
<circle cx="155.5" cy="106.2" r="1.05" fill="#22040c"/>
<circle cx="196.9" cy="106.2" r="1.05" fill="#22040c"/>
<circle cx="169.4" cy="110.0" r="1.05" fill="#22040c"/>
<circle cx="181.6" cy="110.0" r="1.05" fill="#22040c"/>
<defs><clipPath id="cp3"><circle cx="242.6" cy="90.8" r="26.3"/></clipPath><filter id="bl3" x="-30%" y="-30%" width="160%" height="160%"><feGaussianBlur stdDeviation="6"/></filter></defs>
<g clip-path="url(#cp3)"><rect x="212.29999999999998" y="60.5" width="60.6" height="60.6" fill="#2ce8cc"/>
<g transform="translate(205,60) scale(0.15659)">
<g filter="url(#bl3)">
<ellipse cx="340" cy="200" rx="90" ry="110" fill="#50f8a0"/>
<ellipse cx="240" cy="75" rx="170" ry="52" fill="#70ff80"/>
<ellipse cx="240" cy="58" rx="140" ry="40" fill="#c0ff40"/>
<ellipse cx="240" cy="46" rx="112" ry="30" fill="#f8f010"/>
<ellipse cx="236" cy="32" rx="78" ry="20" fill="#ffa010"/>
<ellipse cx="118" cy="255" rx="58" ry="80" transform="rotate(10 118 255)" fill="#30c0ff"/>
<ellipse cx="110" cy="262" rx="34" ry="50" transform="rotate(10 110 262)" fill="#38a8ff"/>
<ellipse cx="376" cy="190" rx="19" ry="34" fill="#d0f840"/>
<ellipse cx="360" cy="316" rx="105" ry="62" transform="rotate(-45 360 316)" fill="#a0ff58"/>
<ellipse cx="362" cy="318" rx="94" ry="48" transform="rotate(-45 362 318)" fill="#f0f018"/>
<ellipse cx="364" cy="320" rx="82" ry="34" transform="rotate(-45 364 320)" fill="#ffa000"/>
<ellipse cx="366" cy="322" rx="68" ry="21" transform="rotate(-45 366 322)" fill="#ff3000"/>
<ellipse cx="243" cy="262" rx="44" ry="58" fill="#98ff60"/>
<ellipse cx="243" cy="262" rx="36" ry="48" fill="#f0f018"/>
<ellipse cx="243" cy="262" rx="28" ry="38" fill="#ffb000"/>
<ellipse cx="243" cy="262" rx="21" ry="28" fill="#ff6800"/>
<ellipse cx="243" cy="262" rx="14" ry="18" fill="#ff1800"/>
<ellipse cx="243" cy="263" rx="7" ry="9" fill="#a00000"/>
</g>
<g fill="none" stroke="#101010" stroke-width="2.6" stroke-opacity="0.85">
<ellipse cx="240" cy="75" rx="170" ry="52"/>
<ellipse cx="240" cy="58" rx="140" ry="40"/>
<ellipse cx="240" cy="46" rx="112" ry="30"/>
<ellipse cx="236" cy="32" rx="78" ry="20"/>
<ellipse cx="376" cy="190" rx="19" ry="34"/>
<ellipse cx="360" cy="316" rx="105" ry="62" transform="rotate(-45 360 316)"/>
<ellipse cx="362" cy="318" rx="94" ry="48" transform="rotate(-45 362 318)"/>
<ellipse cx="364" cy="320" rx="82" ry="34" transform="rotate(-45 364 320)"/>
<ellipse cx="366" cy="322" rx="68" ry="21" transform="rotate(-45 366 322)"/>
<ellipse cx="243" cy="262" rx="44" ry="58"/>
<ellipse cx="243" cy="262" rx="36" ry="48"/>
<ellipse cx="243" cy="262" rx="28" ry="38"/>
<ellipse cx="243" cy="262" rx="21" ry="28"/>
<ellipse cx="243" cy="262" rx="14" ry="18"/>
<path d="M105,95 C120,140 125,180 110,215"/>
<path d="M110,215 C150,225 180,250 190,290 C195,330 200,355 205,375"/>
<path d="M190,110 C250,120 310,125 345,160 C365,190 368,230 350,262"/>
</g></g></g>
<ellipse cx="242.4" cy="91.0" rx="21.4" ry="19.9" fill="none" stroke="#111" stroke-width="0.55"/>
<path d="M238.6,71.5 L242.4,67.6 L246.20000000000002,71.5" fill="none" stroke="#111" stroke-width="0.5"/>
<path d="M221.20000000000002,87.6 q-2,0.4 -1.8,3.4 q0.1,3 1.8,3.4" fill="none" stroke="#111" stroke-width="0.45"/>
<path d="M263.6,87.6 q2,0.4 1.8,3.4 q-0.1,3 -1.8,3.4" fill="none" stroke="#111" stroke-width="0.45"/>
<circle cx="235.8" cy="71.3" r="1.05" fill="#22040c"/>
<circle cx="248.0" cy="71.3" r="1.05" fill="#22040c"/>
<circle cx="221.9" cy="75.3" r="1.05" fill="#22040c"/>
<circle cx="263.3" cy="75.3" r="1.05" fill="#22040c"/>
<circle cx="225.4" cy="78.5" r="1.05" fill="#22040c"/>
<circle cx="259.0" cy="78.5" r="1.05" fill="#22040c"/>
<circle cx="233.2" cy="80.4" r="1.05" fill="#22040c"/>
<circle cx="242.4" cy="80.4" r="1.05" fill="#22040c"/>
<circle cx="251.2" cy="80.4" r="1.05" fill="#22040c"/>
<circle cx="216.7" cy="91.0" r="1.05" fill="#22040c"/>
<circle cx="220.7" cy="91.0" r="1.05" fill="#22040c"/>
<circle cx="231.6" cy="91.0" r="1.05" fill="#22040c"/>
<circle cx="242.4" cy="91.0" r="1.05" fill="#22040c"/>
<circle cx="252.8" cy="91.0" r="1.05" fill="#22040c"/>
<circle cx="263.7" cy="91.0" r="1.05" fill="#22040c"/>
<circle cx="268.4" cy="91.0" r="1.05" fill="#22040c"/>
<circle cx="233.2" cy="101.0" r="1.05" fill="#22040c"/>
<circle cx="242.4" cy="101.0" r="1.05" fill="#22040c"/>
<circle cx="251.2" cy="101.0" r="1.05" fill="#22040c"/>
<circle cx="225.4" cy="102.6" r="1.05" fill="#22040c"/>
<circle cx="259.0" cy="102.6" r="1.05" fill="#22040c"/>
<circle cx="221.9" cy="106.2" r="1.05" fill="#22040c"/>
<circle cx="263.3" cy="106.2" r="1.05" fill="#22040c"/>
<circle cx="235.8" cy="110.0" r="1.05" fill="#22040c"/>
<circle cx="248.0" cy="110.0" r="1.05" fill="#22040c"/>
<defs><clipPath id="cp4"><circle cx="314" cy="91" r="26.3"/></clipPath><filter id="bl4" x="-30%" y="-30%" width="160%" height="160%"><feGaussianBlur stdDeviation="6"/></filter></defs>
<g clip-path="url(#cp4)"><rect x="283.7" y="60.7" width="60.6" height="60.6" fill="#1cf890"/>
<g transform="translate(280,60) scale(0.15659)">
<g filter="url(#bl4)">
<ellipse cx="217" cy="340" rx="190" ry="60" fill="#24f0b8"/>
<ellipse cx="322" cy="135" rx="24" ry="52" transform="rotate(-25 322 135)" fill="#88ff70"/>
<ellipse cx="326" cy="140" rx="12" ry="30" transform="rotate(-25 326 140)" fill="#b8ff48"/>
<g transform="translate(0,0)">
<path d="M62,322 C115,285 170,272 202,242 C216,226 240,228 250,250 C264,284 280,324 296,364 L262,392 L90,390 Z" fill="#8cff70"/>
<path d="M78,322 C128,290 178,280 206,252 C218,240 234,244 241,264 C253,300 268,336 280,366 L254,392 L100,388 Z" fill="#d8ff30"/>
<path d="M88,322 C136,295 184,288 209,262 C219,252 229,256 235,276 C245,310 258,342 268,368 L246,392 L108,386 Z" fill="#ffe400"/>
<path d="M96,322 C142,300 188,296 211,274 C219,268 225,272 229,290 C237,320 249,346 258,370 L238,392 L112,384 Z" fill="#ffb000"/>
<path d="M102,322 C146,306 190,304 211,288 C218,284 222,290 224,302 C230,328 240,350 248,372 L230,392 L116,382 Z" fill="#ff7000"/>
<ellipse cx="186" cy="344" rx="76" ry="40" transform="rotate(-6 186 344)" fill="#ff2800"/>
<ellipse cx="188" cy="352" rx="60" ry="28" transform="rotate(-4 188 352)" fill="#e00000"/>
<ellipse cx="190" cy="360" rx="44" ry="17" transform="rotate(-2 190 360)" fill="#980000"/>
</g>
</g>
<g fill="none" stroke="#101010" stroke-width="2.6" stroke-opacity="0.85">
<ellipse cx="322" cy="135" rx="24" ry="52" transform="rotate(-25 322 135)"/>
<g transform="translate(0,0)">
<path d="M62,322 C115,285 170,272 202,242 C216,226 240,228 250,250 C264,284 280,324 296,364 L262,392 L90,390 Z"/>
<path d="M88,322 C136,295 184,288 209,262 C219,252 229,256 235,276 C245,310 258,342 268,368 L246,392 L108,386 Z"/>
<path d="M96,322 C142,300 188,296 211,274 C219,268 225,272 229,290 C237,320 249,346 258,370 L238,392 L112,384 Z"/>
<path d="M102,322 C146,306 190,304 211,288 C218,284 222,290 224,302 C230,328 240,350 248,372 L230,392 L116,382 Z"/>
<ellipse cx="186" cy="344" rx="76" ry="40" transform="rotate(-6 186 344)"/>
<ellipse cx="190" cy="360" rx="44" ry="17" transform="rotate(-2 190 360)"/>
</g>
<path d="M62,150 C90,120 130,110 150,130 C165,150 160,175 135,182 C110,186 85,180 62,188"/>
<path d="M262,75 C240,110 245,150 265,180 C290,215 300,250 318,290"/>
<path d="M62,150 C55,170 55,200 62,225"/>
</g></g></g>
<ellipse cx="313.8" cy="91.2" rx="21.4" ry="19.9" fill="none" stroke="#111" stroke-width="0.55"/>
<path d="M310.0,71.7 L313.8,67.80000000000001 L317.6,71.7" fill="none" stroke="#111" stroke-width="0.5"/>
<path d="M292.6,87.8 q-2,0.4 -1.8,3.4 q0.1,3 1.8,3.4" fill="none" stroke="#111" stroke-width="0.45"/>
<path d="M335.0,87.8 q2,0.4 1.8,3.4 q-0.1,3 -1.8,3.4" fill="none" stroke="#111" stroke-width="0.45"/>
<circle cx="307.2" cy="71.5" r="1.05" fill="#22040c"/>
<circle cx="319.4" cy="71.5" r="1.05" fill="#22040c"/>
<circle cx="293.3" cy="75.5" r="1.05" fill="#22040c"/>
<circle cx="334.7" cy="75.5" r="1.05" fill="#22040c"/>
<circle cx="296.8" cy="78.7" r="1.05" fill="#22040c"/>
<circle cx="330.4" cy="78.7" r="1.05" fill="#22040c"/>
<circle cx="304.6" cy="80.6" r="1.05" fill="#22040c"/>
<circle cx="313.8" cy="80.6" r="1.05" fill="#22040c"/>
<circle cx="322.6" cy="80.6" r="1.05" fill="#22040c"/>
<circle cx="288.1" cy="91.2" r="1.05" fill="#22040c"/>
<circle cx="292.1" cy="91.2" r="1.05" fill="#22040c"/>
<circle cx="303.0" cy="91.2" r="1.05" fill="#22040c"/>
<circle cx="313.8" cy="91.2" r="1.05" fill="#22040c"/>
<circle cx="324.2" cy="91.2" r="1.05" fill="#22040c"/>
<circle cx="335.1" cy="91.2" r="1.05" fill="#22040c"/>
<circle cx="339.8" cy="91.2" r="1.05" fill="#22040c"/>
<circle cx="304.6" cy="101.2" r="1.05" fill="#22040c"/>
<circle cx="313.8" cy="101.2" r="1.05" fill="#22040c"/>
<circle cx="322.6" cy="101.2" r="1.05" fill="#22040c"/>
<circle cx="296.8" cy="102.8" r="1.05" fill="#22040c"/>
<circle cx="330.4" cy="102.8" r="1.05" fill="#22040c"/>
<circle cx="293.3" cy="106.4" r="1.05" fill="#22040c"/>
<circle cx="334.7" cy="106.4" r="1.05" fill="#22040c"/>
<circle cx="307.2" cy="110.2" r="1.05" fill="#22040c"/>
<circle cx="319.4" cy="110.2" r="1.05" fill="#22040c"/>
<defs><clipPath id="cp5"><circle cx="381" cy="91" r="26.3"/></clipPath><filter id="bl5" x="-30%" y="-30%" width="160%" height="160%"><feGaussianBlur stdDeviation="6"/></filter></defs>
<g clip-path="url(#cp5)"><rect x="350.7" y="60.7" width="60.6" height="60.6" fill="#24f0e0"/>
<g transform="translate(345,60) scale(0.15659)">
<g filter="url(#bl5)">
<path d="M62,185 C70,120 150,70 262,78 C285,120 275,175 225,208 C165,232 100,215 62,185Z" fill="#2cf4ac"/>
<ellipse cx="235" cy="268" rx="100" ry="62" transform="rotate(-35 235 268)" fill="#50fc90"/>
<ellipse cx="330" cy="190" rx="78" ry="100" fill="#70ff78"/>
<ellipse cx="262" cy="228" rx="56" ry="32" transform="rotate(-35 262 228)" fill="#a0ff58"/>
<ellipse cx="334" cy="188" rx="60" ry="78" fill="#d8ff30"/>
<ellipse cx="336" cy="187" rx="48" ry="60" fill="#ffe000"/>
<ellipse cx="339" cy="186" rx="36" ry="44" fill="#ffa800"/>
<ellipse cx="342" cy="186" rx="24" ry="30" fill="#ff6800"/>
<path d="M88,335 C125,292 178,270 208,240 C228,222 252,232 258,258 C265,300 274,340 286,368 L245,392 L120,375 Z" fill="#a0ff58"/>
<path d="M108,332 C145,298 188,280 214,254 C228,244 242,250 246,270 C252,306 262,342 270,366 L240,390 L130,372 Z" fill="#f0f018"/>
<path d="M122,334 C155,305 192,292 216,270 C226,264 234,270 236,288 C240,316 248,344 256,366 L232,390 L138,372 Z" fill="#ffb400"/>
<ellipse cx="194" cy="326" rx="80" ry="50" transform="rotate(-26 194 326)" fill="#ff7000"/>
<ellipse cx="188" cy="334" rx="68" ry="40" transform="rotate(-24 188 334)" fill="#ff2000"/>
<ellipse cx="182" cy="346" rx="50" ry="24" transform="rotate(-20 182 346)" fill="#b00000"/>
</g>
<g fill="none" stroke="#101010" stroke-width="2.6" stroke-opacity="0.85">
<path d="M62,185 C70,120 150,70 262,78 C285,120 275,175 225,208 C165,232 100,215 62,185Z"/>
<ellipse cx="330" cy="190" rx="78" ry="100"/>
<ellipse cx="334" cy="188" rx="60" ry="78"/>
<ellipse cx="336" cy="187" rx="48" ry="60"/>
<ellipse cx="339" cy="186" rx="36" ry="44"/>
<ellipse cx="342" cy="186" rx="24" ry="30"/>
<path d="M88,335 C125,292 178,270 208,240 C228,222 252,232 258,258 C265,300 274,340 286,368 L245,392 L120,375 Z"/>
<path d="M108,332 C145,298 188,280 214,254 C228,244 242,250 246,270 C252,306 262,342 270,366 L240,390 L130,372 Z"/>
<ellipse cx="194" cy="326" rx="80" ry="50" transform="rotate(-26 194 326)"/>
<ellipse cx="188" cy="334" rx="68" ry="40" transform="rotate(-24 188 334)"/>
<ellipse cx="182" cy="346" rx="50" ry="24" transform="rotate(-20 182 346)"/>
<path d="M160,95 C165,130 162,170 150,200"/>
<path d="M62,185 C58,200 58,215 64,230"/>
<path d="M265,80 C300,90 345,110 385,150"/>
</g></g></g>
<ellipse cx="380.8" cy="91.2" rx="21.4" ry="19.9" fill="none" stroke="#111" stroke-width="0.55"/>
<path d="M377.0,71.7 L380.8,67.80000000000001 L384.6,71.7" fill="none" stroke="#111" stroke-width="0.5"/>
<path d="M359.6,87.8 q-2,0.4 -1.8,3.4 q0.1,3 1.8,3.4" fill="none" stroke="#111" stroke-width="0.45"/>
<path d="M402.0,87.8 q2,0.4 1.8,3.4 q-0.1,3 -1.8,3.4" fill="none" stroke="#111" stroke-width="0.45"/>
<circle cx="374.2" cy="71.5" r="1.05" fill="#22040c"/>
<circle cx="386.4" cy="71.5" r="1.05" fill="#22040c"/>
<circle cx="360.3" cy="75.5" r="1.05" fill="#22040c"/>
<circle cx="401.7" cy="75.5" r="1.05" fill="#22040c"/>
<circle cx="363.8" cy="78.7" r="1.05" fill="#22040c"/>
<circle cx="397.4" cy="78.7" r="1.05" fill="#22040c"/>
<circle cx="371.6" cy="80.6" r="1.05" fill="#22040c"/>
<circle cx="380.8" cy="80.6" r="1.05" fill="#22040c"/>
<circle cx="389.6" cy="80.6" r="1.05" fill="#22040c"/>
<circle cx="355.1" cy="91.2" r="1.05" fill="#22040c"/>
<circle cx="359.1" cy="91.2" r="1.05" fill="#22040c"/>
<circle cx="370.0" cy="91.2" r="1.05" fill="#22040c"/>
<circle cx="380.8" cy="91.2" r="1.05" fill="#22040c"/>
<circle cx="391.2" cy="91.2" r="1.05" fill="#22040c"/>
<circle cx="402.1" cy="91.2" r="1.05" fill="#22040c"/>
<circle cx="406.8" cy="91.2" r="1.05" fill="#22040c"/>
<circle cx="371.6" cy="101.2" r="1.05" fill="#22040c"/>
<circle cx="380.8" cy="101.2" r="1.05" fill="#22040c"/>
<circle cx="389.6" cy="101.2" r="1.05" fill="#22040c"/>
<circle cx="363.8" cy="102.8" r="1.05" fill="#22040c"/>
<circle cx="397.4" cy="102.8" r="1.05" fill="#22040c"/>
<circle cx="360.3" cy="106.4" r="1.05" fill="#22040c"/>
<circle cx="401.7" cy="106.4" r="1.05" fill="#22040c"/>
<circle cx="374.2" cy="110.2" r="1.05" fill="#22040c"/>
<circle cx="386.4" cy="110.2" r="1.05" fill="#22040c"/>
<defs><clipPath id="cp6"><circle cx="447.4" cy="91" r="26.4"/></clipPath><filter id="bl6" x="-30%" y="-30%" width="160%" height="160%"><feGaussianBlur stdDeviation="6"/></filter></defs>
<g clip-path="url(#cp6)"><rect x="417.0" y="60.599999999999994" width="60.8" height="60.8" fill="#1cf88c"/>
<g transform="translate(410,60) scale(0.15659)">
<g filter="url(#bl6)">
<ellipse cx="239" cy="340" rx="190" ry="55" fill="#24f0b8"/>
<ellipse cx="330" cy="125" rx="22" ry="42" transform="rotate(-25 330 125)" fill="#90ff68"/>
<ellipse cx="333" cy="128" rx="11" ry="24" transform="rotate(-25 333 128)" fill="#b8ff48"/>
<g transform="translate(14,-2)">
<path d="M62,322 C115,285 170,272 202,242 C216,226 240,228 250,250 C264,284 280,324 296,364 L262,392 L90,390 Z" fill="#8cff70"/>
<path d="M78,322 C128,290 178,280 206,252 C218,240 234,244 241,264 C253,300 268,336 280,366 L254,392 L100,388 Z" fill="#d8ff30"/>
<path d="M88,322 C136,295 184,288 209,262 C219,252 229,256 235,276 C245,310 258,342 268,368 L246,392 L108,386 Z" fill="#ffe400"/>
<path d="M96,322 C142,300 188,296 211,274 C219,268 225,272 229,290 C237,320 249,346 258,370 L238,392 L112,384 Z" fill="#ffb000"/>
<path d="M102,322 C146,306 190,304 211,288 C218,284 222,290 224,302 C230,328 240,350 248,372 L230,392 L116,382 Z" fill="#ff7000"/>
<ellipse cx="186" cy="344" rx="76" ry="40" transform="rotate(-6 186 344)" fill="#ff2800"/>
<ellipse cx="188" cy="352" rx="60" ry="28" transform="rotate(-4 188 352)" fill="#e00000"/>
<ellipse cx="190" cy="360" rx="44" ry="17" transform="rotate(-2 190 360)" fill="#980000"/>
</g>
</g>
<g fill="none" stroke="#101010" stroke-width="2.6" stroke-opacity="0.85">
<ellipse cx="330" cy="125" rx="22" ry="42" transform="rotate(-25 330 125)"/>
<g transform="translate(14,-2)">
<path d="M62,322 C115,285 170,272 202,242 C216,226 240,228 250,250 C264,284 280,324 296,364 L262,392 L90,390 Z"/>
<path d="M88,322 C136,295 184,288 209,262 C219,252 229,256 235,276 C245,310 258,342 268,368 L246,392 L108,386 Z"/>
<path d="M96,322 C142,300 188,296 211,274 C219,268 225,272 229,290 C237,320 249,346 258,370 L238,392 L112,384 Z"/>
<path d="M102,322 C146,306 190,304 211,288 C218,284 222,290 224,302 C230,328 240,350 248,372 L230,392 L116,382 Z"/>
<ellipse cx="186" cy="344" rx="76" ry="40" transform="rotate(-6 186 344)"/>
<ellipse cx="190" cy="360" rx="44" ry="17" transform="rotate(-2 190 360)"/>
</g>
</g></g></g>
<ellipse cx="447.2" cy="91.2" rx="21.4" ry="19.9" fill="none" stroke="#111" stroke-width="0.55"/>
<path d="M443.4,71.7 L447.2,67.80000000000001 L451.0,71.7" fill="none" stroke="#111" stroke-width="0.5"/>
<path d="M426.0,87.8 q-2,0.4 -1.8,3.4 q0.1,3 1.8,3.4" fill="none" stroke="#111" stroke-width="0.45"/>
<path d="M468.4,87.8 q2,0.4 1.8,3.4 q-0.1,3 -1.8,3.4" fill="none" stroke="#111" stroke-width="0.45"/>
<circle cx="440.6" cy="71.5" r="1.05" fill="#22040c"/>
<circle cx="452.8" cy="71.5" r="1.05" fill="#22040c"/>
<circle cx="426.7" cy="75.5" r="1.05" fill="#22040c"/>
<circle cx="468.1" cy="75.5" r="1.05" fill="#22040c"/>
<circle cx="430.2" cy="78.7" r="1.05" fill="#22040c"/>
<circle cx="463.8" cy="78.7" r="1.05" fill="#22040c"/>
<circle cx="438.0" cy="80.6" r="1.05" fill="#22040c"/>
<circle cx="447.2" cy="80.6" r="1.05" fill="#22040c"/>
<circle cx="456.0" cy="80.6" r="1.05" fill="#22040c"/>
<circle cx="421.5" cy="91.2" r="1.05" fill="#22040c"/>
<circle cx="425.5" cy="91.2" r="1.05" fill="#22040c"/>
<circle cx="436.4" cy="91.2" r="1.05" fill="#22040c"/>
<circle cx="447.2" cy="91.2" r="1.05" fill="#22040c"/>
<circle cx="457.6" cy="91.2" r="1.05" fill="#22040c"/>
<circle cx="468.5" cy="91.2" r="1.05" fill="#22040c"/>
<circle cx="473.2" cy="91.2" r="1.05" fill="#22040c"/>
<circle cx="438.0" cy="101.2" r="1.05" fill="#22040c"/>
<circle cx="447.2" cy="101.2" r="1.05" fill="#22040c"/>
<circle cx="456.0" cy="101.2" r="1.05" fill="#22040c"/>
<circle cx="430.2" cy="102.8" r="1.05" fill="#22040c"/>
<circle cx="463.8" cy="102.8" r="1.05" fill="#22040c"/>
<circle cx="426.7" cy="106.4" r="1.05" fill="#22040c"/>
<circle cx="468.1" cy="106.4" r="1.05" fill="#22040c"/>
<circle cx="440.6" cy="110.2" r="1.05" fill="#22040c"/>
<circle cx="452.8" cy="110.2" r="1.05" fill="#22040c"/>
<defs><clipPath id="cp7"><circle cx="513.6" cy="91" r="26.4"/></clipPath><filter id="bl7" x="-30%" y="-30%" width="160%" height="160%"><feGaussianBlur stdDeviation="6"/></filter></defs>
<g clip-path="url(#cp7)"><rect x="483.20000000000005" y="60.599999999999994" width="60.8" height="60.8" fill="#1cf88c"/>
<g transform="translate(475,60) scale(0.15659)">
<g filter="url(#bl7)">
<ellipse cx="246" cy="340" rx="190" ry="55" fill="#24f0b8"/>
<path d="M300,70 C330,60 372,90 388,140 C400,190 392,240 372,270 C350,285 330,270 322,240 C318,200 325,150 300,70Z" fill="#78ff78"/>
<ellipse cx="355" cy="150" rx="14" ry="50" transform="rotate(-8 355 150)" fill="#a8ff50"/>
<g transform="translate(24,-2)">
<path d="M62,322 C115,285 170,272 202,242 C216,226 240,228 250,250 C264,284 280,324 296,364 L262,392 L90,390 Z" fill="#8cff70"/>
<path d="M78,322 C128,290 178,280 206,252 C218,240 234,244 241,264 C253,300 268,336 280,366 L254,392 L100,388 Z" fill="#d8ff30"/>
<path d="M88,322 C136,295 184,288 209,262 C219,252 229,256 235,276 C245,310 258,342 268,368 L246,392 L108,386 Z" fill="#ffe400"/>
<path d="M96,322 C142,300 188,296 211,274 C219,268 225,272 229,290 C237,320 249,346 258,370 L238,392 L112,384 Z" fill="#ffb000"/>
<path d="M102,322 C146,306 190,304 211,288 C218,284 222,290 224,302 C230,328 240,350 248,372 L230,392 L116,382 Z" fill="#ff7000"/>
<ellipse cx="186" cy="344" rx="76" ry="40" transform="rotate(-6 186 344)" fill="#ff2800"/>
<ellipse cx="188" cy="352" rx="60" ry="28" transform="rotate(-4 188 352)" fill="#e00000"/>
<ellipse cx="190" cy="360" rx="44" ry="17" transform="rotate(-2 190 360)" fill="#980000"/>
</g>
</g>
<g fill="none" stroke="#101010" stroke-width="2.6" stroke-opacity="0.85">
<path d="M300,70 C330,60 372,90 388,140 C400,190 392,240 372,270 C350,285 330,270 322,240 C318,200 325,150 300,70Z"/>
<g transform="translate(24,-2)">
<path d="M62,322 C115,285 170,272 202,242 C216,226 240,228 250,250 C264,284 280,324 296,364 L262,392 L90,390 Z"/>
<path d="M88,322 C136,295 184,288 209,262 C219,252 229,256 235,276 C245,310 258,342 268,368 L246,392 L108,386 Z"/>
<path d="M96,322 C142,300 188,296 211,274 C219,268 225,272 229,290 C237,320 249,346 258,370 L238,392 L112,384 Z"/>
<path d="M102,322 C146,306 190,304 211,288 C218,284 222,290 224,302 C230,328 240,350 248,372 L230,392 L116,382 Z"/>
<ellipse cx="186" cy="344" rx="76" ry="40" transform="rotate(-6 186 344)"/>
<ellipse cx="190" cy="360" rx="44" ry="17" transform="rotate(-2 190 360)"/>
</g>
</g></g></g>
<ellipse cx="513.4" cy="91.2" rx="21.4" ry="19.9" fill="none" stroke="#111" stroke-width="0.55"/>
<path d="M509.59999999999997,71.7 L513.4,67.80000000000001 L517.1999999999999,71.7" fill="none" stroke="#111" stroke-width="0.5"/>
<path d="M492.2,87.8 q-2,0.4 -1.8,3.4 q0.1,3 1.8,3.4" fill="none" stroke="#111" stroke-width="0.45"/>
<path d="M534.6,87.8 q2,0.4 1.8,3.4 q-0.1,3 -1.8,3.4" fill="none" stroke="#111" stroke-width="0.45"/>
<circle cx="506.8" cy="71.5" r="1.05" fill="#22040c"/>
<circle cx="519.0" cy="71.5" r="1.05" fill="#22040c"/>
<circle cx="492.9" cy="75.5" r="1.05" fill="#22040c"/>
<circle cx="534.3" cy="75.5" r="1.05" fill="#22040c"/>
<circle cx="496.4" cy="78.7" r="1.05" fill="#22040c"/>
<circle cx="530.0" cy="78.7" r="1.05" fill="#22040c"/>
<circle cx="504.2" cy="80.6" r="1.05" fill="#22040c"/>
<circle cx="513.4" cy="80.6" r="1.05" fill="#22040c"/>
<circle cx="522.2" cy="80.6" r="1.05" fill="#22040c"/>
<circle cx="487.7" cy="91.2" r="1.05" fill="#22040c"/>
<circle cx="491.7" cy="91.2" r="1.05" fill="#22040c"/>
<circle cx="502.6" cy="91.2" r="1.05" fill="#22040c"/>
<circle cx="513.4" cy="91.2" r="1.05" fill="#22040c"/>
<circle cx="523.8" cy="91.2" r="1.05" fill="#22040c"/>
<circle cx="534.7" cy="91.2" r="1.05" fill="#22040c"/>
<circle cx="539.4" cy="91.2" r="1.05" fill="#22040c"/>
<circle cx="504.2" cy="101.2" r="1.05" fill="#22040c"/>
<circle cx="513.4" cy="101.2" r="1.05" fill="#22040c"/>
<circle cx="522.2" cy="101.2" r="1.05" fill="#22040c"/>
<circle cx="496.4" cy="102.8" r="1.05" fill="#22040c"/>
<circle cx="530.0" cy="102.8" r="1.05" fill="#22040c"/>
<circle cx="492.9" cy="106.4" r="1.05" fill="#22040c"/>
<circle cx="534.3" cy="106.4" r="1.05" fill="#22040c"/>
<circle cx="506.8" cy="110.2" r="1.05" fill="#22040c"/>
<circle cx="519.0" cy="110.2" r="1.05" fill="#22040c"/>
</svg>
</body></html>
